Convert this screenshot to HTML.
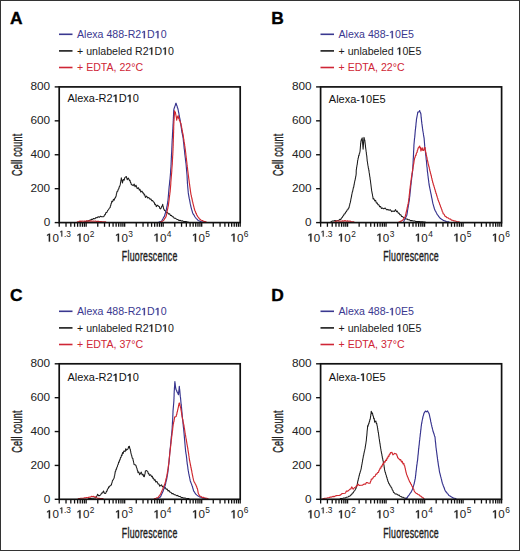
<!DOCTYPE html>
<html><head><meta charset="utf-8"><style>
html,body{margin:0;padding:0;background:#fff;}
svg{display:block;}
text{font-family:"Liberation Sans",sans-serif;}
.h1{fill-opacity:0;}
.let{font-size:17.4px;font-weight:bold;fill:#000;stroke:#000;stroke-width:0.35px;}
.lg{font-size:10.6px;}
.tk{font-size:11.8px;fill:#222;}
.tx{font-size:11.6px;fill:#222;}
.sup{font-size:8.4px;}
.ax{font-size:14px;letter-spacing:0.4px;fill:#1e1e1e;stroke:#1e1e1e;stroke-width:0.4px;}
.tt{font-size:11px;fill:#111;}
</style></head><body>
<svg width="520" height="551" viewBox="0 0 520 551">
<rect x="0.5" y="0.5" width="519" height="550" fill="#fff" stroke="#333" stroke-width="1"/>
<text x="9.9" y="24.1" class="let">A</text>
<line x1="59" x2="72.5" y1="34.30" y2="34.30" stroke="#3a3890" stroke-width="1.6"/>
<text x="77" y="38.20" class="lg" fill="#3a3890">Alexa 488-R2<tspan class="h1">1</tspan>D<tspan class="h1">1</tspan>0</text>
<line x1="59" x2="72.5" y1="50.90" y2="50.90" stroke="#1a1a1a" stroke-width="1.6"/>
<text x="77" y="54.80" class="lg" fill="#1a1a1a">+ unlabeled R2<tspan class="h1">1</tspan>D<tspan class="h1">1</tspan>0</text>
<line x1="59" x2="72.5" y1="67.50" y2="67.50" stroke="#cf2636" stroke-width="1.6"/>
<text x="77" y="71.40" class="lg" fill="#cf2636">+ EDTA, 22°C</text>
<clipPath id="cA"><rect x="59.2" y="86.9" width="181.0" height="135.7"/></clipPath>
<polyline points="60.0,223.2 61.1,223.2 62.2,223.2 63.3,223.2 64.4,223.2 65.5,223.2 66.6,223.2 67.7,223.2 68.8,223.2 69.9,223.2 71.0,223.2 72.1,223.2 73.2,223.2 74.3,223.2 75.4,223.2 76.5,223.2 77.6,223.2 78.7,223.2 79.8,223.2 80.9,223.2 82.0,223.2 83.3,223.2 84.5,221.8 85.8,221.4 87.0,220.9 88.3,220.9 89.4,220.2 90.4,220.1 91.5,219.2 92.5,219.4 93.6,218.5 94.8,218.8 95.9,217.6 97.0,217.8 98.2,216.7 99.4,217.3 100.5,216.2 101.7,216.8 103.4,216.7 104.0,216.4 104.6,214.7 105.2,214.7 106.0,212.5 106.9,212.4 107.7,210.4 108.5,209.9 109.3,208.1 110.1,207.6 110.4,205.8 110.8,205.4 111.1,203.6 111.5,203.2 111.8,201.2 112.6,201.8 113.4,199.3 114.2,200.1 114.8,198.1 115.4,197.9 116.0,196.3 116.2,195.6 116.4,193.9 116.6,193.5 117.2,191.2 117.7,191.3 118.3,189.1 118.8,188.8 119.2,186.8 119.6,186.7 120.1,185.1 120.3,184.4 120.5,182.7 120.7,182.1 120.9,180.3 121.1,179.7 121.3,177.8 121.7,179.9 122.0,180.1 122.4,183.0 123.3,179.4 124.2,180.2 124.8,177.6 125.4,177.1 126.3,176.5 127.2,179.7 128.3,178.1 129.5,180.6 130.0,180.3 130.5,182.6 130.9,182.8 131.4,184.8 131.9,184.7 133.1,185.6 134.2,184.1 135.1,186.8 136.0,185.2 137.2,188.6 138.5,187.7 139.3,190.1 140.0,189.4 140.8,192.1 141.9,191.1 143.1,193.2 143.7,193.1 144.2,195.0 144.8,194.8 145.4,197.5 146.6,196.1 147.7,198.0 148.8,197.5 150.0,199.3 150.9,198.9 151.8,200.7 152.6,200.5 153.5,202.1 154.2,202.3 154.9,204.6 155.6,204.3 156.3,206.6 157.5,205.2 158.7,206.4 159.3,206.5 159.8,208.4 160.4,208.9 161.0,208.3 161.6,206.6 162.1,206.1 162.7,204.3 163.0,205.9 163.2,206.7 163.5,208.3 163.8,208.9 164.6,210.5 165.4,210.8 166.2,212.5 167.3,212.4 168.5,213.9 169.6,213.8 170.5,215.5 171.4,215.4 172.4,216.8 173.3,216.8 174.2,218.2 175.3,218.2 176.5,219.2 177.7,219.4 178.8,220.4 180.0,220.2 181.2,220.9 182.3,220.8 183.5,221.4 184.6,221.5 185.8,221.6 186.9,221.8 188.0,221.9 189.2,223.2 190.4,223.2 191.6,223.2 192.8,223.2 194.0,223.2 195.2,223.2 196.4,223.2 197.6,223.2 198.8,223.2 200.0,223.2 201.1,223.2 202.2,223.2 203.3,223.2 204.4,223.2 205.6,223.2 206.7,223.2 207.8,223.2 208.9,223.2 210.0,223.2 211.1,223.2 212.2,223.2 213.3,223.2 214.4,223.2 215.6,223.2 216.7,223.2 217.8,223.2 218.9,223.2 220.0,223.2 221.1,223.2 222.2,223.2 223.3,223.2 224.4,223.2 225.6,223.2 226.7,223.2 227.8,223.2 228.9,223.2 230.0,223.2 231.1,223.2 232.2,223.2 233.3,223.2 234.4,223.2 235.6,223.2 236.7,223.2 237.8,223.2 238.9,223.2 240.0,223.2" fill="none" stroke="#1a1a1a" stroke-width="1.05" stroke-linejoin="round" clip-path="url(#cA)"/>
<polyline points="150.0,223.2 151.1,223.2 152.3,223.2 153.4,223.2 154.6,223.2 155.7,223.2 156.9,223.2 158.0,223.2 159.2,221.9 160.3,221.6 161.5,221.2 162.1,220.3 162.7,219.2 163.2,218.3 163.8,217.1 164.4,216.3 164.8,215.0 165.1,214.0 165.5,212.7 165.8,211.6 166.2,210.3 166.4,209.3 166.6,208.0 166.8,207.0 167.1,205.8 167.3,204.7 167.5,203.4 167.7,202.4 167.9,201.2 168.0,200.1 168.1,198.9 168.2,197.8 168.3,196.6 168.4,195.5 168.5,194.3 168.6,193.1 168.7,191.9 168.8,190.9 168.9,189.6 169.0,188.5 169.1,187.3 169.2,186.2 169.4,185.0 169.5,183.9 169.6,182.7 169.7,181.6 169.8,180.3 170.0,179.3 170.1,178.0 170.2,176.9 170.3,175.7 170.4,174.6 170.5,173.4 170.6,172.3 170.6,171.1 170.7,169.9 170.8,168.7 170.9,167.6 171.0,166.5 171.0,165.4 171.1,164.2 171.1,163.1 171.2,162.0 171.2,160.9 171.3,159.7 171.3,158.6 171.4,157.5 171.4,156.4 171.5,155.2 171.5,154.1 171.6,153.0 171.7,151.9 171.7,150.8 171.8,149.7 171.8,148.5 171.9,147.4 171.9,146.3 172.0,145.2 172.0,144.1 172.1,143.0 172.1,141.8 172.2,140.8 172.2,139.6 172.3,138.5 172.4,137.3 172.4,136.3 172.5,135.1 172.5,134.1 172.6,132.9 172.7,131.8 172.7,130.6 172.8,129.6 172.9,128.4 172.9,127.4 173.0,126.2 173.0,125.1 173.1,124.0 173.2,122.9 173.2,121.7 173.3,120.7 173.3,119.5 173.4,118.5 173.4,117.3 173.5,116.2 173.5,115.0 173.6,114.0 173.6,112.8 173.7,111.8 173.7,110.6 173.8,109.8 174.2,108.1 174.5,107.6 174.9,106.1 175.3,105.5 175.6,103.8 176.0,103.2 176.3,104.0 176.7,105.4 177.1,106.0 177.4,107.6 177.8,108.3 178.1,109.6 178.3,110.5 178.5,112.0 178.8,112.9 179.0,114.3 179.2,115.1 179.4,116.6 179.6,117.5 179.9,118.9 180.1,119.9 180.3,121.2 180.5,122.2 180.6,123.4 180.8,124.4 181.0,125.7 181.1,126.6 181.3,128.0 181.5,129.0 181.6,130.2 181.8,131.2 182.0,132.6 182.3,133.6 182.5,135.0 182.7,135.9 183.0,137.5 183.2,138.5 183.3,139.7 183.4,140.6 183.5,141.9 183.7,142.9 183.8,144.2 183.9,145.1 184.0,146.4 184.1,147.4 184.2,148.6 184.4,149.6 184.5,150.8 184.6,151.8 184.7,153.0 184.8,154.1 185.0,155.4 185.1,156.5 185.3,157.8 185.4,158.8 185.5,160.1 185.7,161.1 185.8,162.4 186.0,163.5 186.1,164.7 186.2,165.8 186.3,167.0 186.4,168.1 186.5,169.3 186.6,170.4 186.7,171.6 186.8,172.7 186.9,173.9 187.0,175.0 187.1,176.1 187.1,177.2 187.2,178.4 187.2,179.5 187.3,180.6 187.4,181.7 187.4,182.9 187.5,184.0 187.6,185.2 187.7,186.2 187.8,187.4 187.9,188.5 188.0,189.7 188.1,190.7 188.2,191.9 188.3,192.9 188.5,194.3 188.7,195.3 188.9,196.6 189.1,197.6 189.3,198.9 189.6,199.9 189.8,201.1 190.0,202.1 190.2,203.4 190.4,204.4 190.7,205.6 190.9,206.6 191.2,207.8 191.5,208.8 191.8,210.0 192.1,210.9 192.4,212.1 192.7,213.0 193.4,214.4 194.1,215.2 194.7,216.5 195.4,217.5 196.3,218.6 197.2,219.4 198.1,220.5 199.5,221.0 200.9,221.7 202.3,221.9 203.6,223.2 205.0,223.2 206.1,223.2 207.3,223.2 208.4,223.2 209.5,223.2 210.6,223.2 211.8,223.2 212.9,223.2 214.0,223.2 215.2,223.2 216.3,223.2 217.4,223.2 218.5,223.2 219.7,223.2 220.8,223.2 221.9,223.2 223.1,223.2 224.2,223.2 225.3,223.2 226.5,223.2 227.6,223.2 228.7,223.2 229.8,223.2 231.0,223.2 232.1,223.2 233.2,223.2 234.4,223.2 235.5,223.2 236.6,223.2 237.7,223.2 238.9,223.2 240.0,223.2" fill="none" stroke="#36338e" stroke-width="1.15" stroke-linejoin="round" clip-path="url(#cA)"/>
<polyline points="59.5,223.2 60.6,223.2 61.7,223.2 62.8,223.2 63.9,223.2 65.0,223.2 66.1,223.2 67.2,223.2 68.4,223.2 69.5,223.2 70.6,223.2 71.7,223.2 72.8,223.2 73.9,223.2 75.0,223.2 76.2,223.2 77.5,221.8 78.8,221.6 80.0,221.1 81.1,221.4 82.2,221.1 83.3,221.3 84.4,221.0 85.6,221.3 86.7,220.9 87.8,221.3 88.9,220.9 90.0,221.1 91.1,220.9 92.2,221.3 93.3,221.1 94.4,221.3 95.6,221.1 96.7,221.5 97.8,221.2 98.9,221.4 100.0,221.5 101.1,221.6 102.2,221.7 103.3,221.7 104.4,221.8 105.6,221.9 106.7,223.2 107.8,223.2 108.9,223.2 110.0,223.2 111.1,223.2 112.2,223.2 113.4,223.2 114.5,223.2 115.6,223.2 116.8,223.2 117.9,223.2 119.0,223.2 120.1,223.2 121.2,223.2 122.4,223.2 123.5,223.2 124.6,223.2 125.8,223.2 126.9,223.2 128.0,223.2 129.1,223.2 130.2,223.2 131.4,223.2 132.5,223.2 133.6,223.2 134.8,223.2 135.9,223.2 137.0,223.2 138.1,223.2 139.2,223.2 140.4,223.2 141.5,223.2 142.6,223.2 143.8,223.2 144.9,223.2 146.0,223.2 147.1,223.2 148.2,223.2 149.4,223.2 150.5,223.2 151.6,223.2 152.8,223.2 153.9,223.2 155.0,223.2 156.2,223.2 157.5,223.2 158.8,223.2 160.0,223.2 161.1,221.6 162.2,221.4 163.3,220.6 164.0,219.9 164.8,218.3 165.5,217.7 166.2,216.1 166.4,215.2 166.7,213.8 166.9,212.8 167.1,211.4 167.3,210.5 167.6,209.1 167.8,208.3 168.0,206.8 168.3,206.0 168.5,204.5 168.6,203.6 168.8,202.2 168.9,201.3 169.1,199.9 169.2,199.0 169.3,197.6 169.5,196.6 169.6,195.3 169.8,194.4 169.9,192.9 170.1,192.1 170.2,190.7 170.3,189.8 170.4,188.4 170.5,187.5 170.6,186.0 170.7,185.1 170.8,183.7 170.8,182.8 170.9,181.4 171.0,180.5 171.1,179.1 171.2,178.2 171.3,176.8 171.4,175.8 171.5,174.4 171.6,173.5 171.7,172.0 171.8,171.1 171.8,169.7 171.9,168.7 172.0,167.3 172.1,166.3 172.2,164.9 172.3,163.9 172.3,162.6 172.4,161.6 172.4,160.3 172.5,159.3 172.6,158.0 172.6,157.0 172.7,155.7 172.8,154.7 172.8,153.4 172.9,152.4 172.9,151.1 173.0,150.1 173.0,148.8 173.1,147.8 173.1,146.5 173.2,145.5 173.2,144.2 173.2,143.1 173.3,141.8 173.3,140.8 173.3,139.6 173.4,138.5 173.4,137.3 173.5,136.2 173.5,135.0 173.5,134.0 173.6,132.8 173.6,131.8 173.6,130.5 173.7,129.5 173.7,128.4 173.7,127.3 173.7,126.1 173.8,125.2 173.8,123.9 173.9,122.9 173.9,121.5 174.0,120.6 174.1,119.3 174.2,118.3 174.2,116.9 174.3,116.0 174.4,114.6 174.4,113.6 174.5,110.9 175.2,112.1 175.4,112.4 175.7,114.3 175.9,115.0 176.2,116.9 176.4,117.5 176.7,120.2 177.2,116.9 177.6,117.8 178.1,115.5 178.6,118.3 179.0,117.8 179.5,120.8 180.0,120.9 180.5,123.3 181.0,123.6 181.2,125.7 181.4,125.9 181.7,127.7 181.9,128.4 182.1,130.3 182.3,130.8 182.5,132.5 182.8,133.1 183.0,134.7 183.2,135.3 183.4,136.9 183.5,137.6 183.7,139.3 183.9,139.9 184.0,141.5 184.2,142.1 184.4,143.7 184.6,144.3 184.7,146.0 184.9,146.5 185.1,148.3 185.2,148.7 185.4,150.3 185.5,151.2 185.7,152.8 185.8,153.6 185.9,155.1 186.1,156.0 186.2,157.6 186.4,158.3 186.5,159.8 186.6,160.7 186.8,162.2 186.9,163.0 187.0,164.5 187.2,165.4 187.3,166.9 187.5,167.8 187.6,169.2 187.7,170.1 187.9,171.6 188.0,172.4 188.2,174.0 188.3,174.8 188.5,176.3 188.6,177.1 188.8,178.7 188.9,179.4 189.1,180.9 189.2,181.7 189.3,183.1 189.5,183.9 189.7,185.4 189.8,186.2 190.0,187.6 190.1,188.3 190.3,189.7 190.4,190.6 190.6,192.0 190.7,192.7 190.9,194.2 191.2,194.9 191.4,196.6 191.7,197.4 191.9,198.8 192.2,199.7 192.4,201.2 192.7,201.9 193.0,203.6 193.3,204.5 193.6,206.0 193.9,206.9 194.2,208.5 194.5,209.2 194.9,210.8 195.4,211.3 195.8,213.0 196.3,213.5 196.8,215.0 197.2,215.6 197.9,216.9 198.6,217.4 199.3,218.8 200.0,219.3 201.2,220.2 202.4,220.5 203.6,221.4 204.8,221.5 206.0,221.8 207.2,223.2 208.3,223.2 209.4,223.2 210.5,223.2 211.7,223.2 212.8,223.2 213.9,223.2 215.0,223.2" fill="none" stroke="#d0282f" stroke-width="1.15" stroke-linejoin="round" clip-path="url(#cA)"/>
<rect x="59.2" y="86.9" width="181.0" height="135.7" fill="none" stroke="#111" stroke-width="1.7"/>
<line x1="54.7" x2="59.2" y1="222.60" y2="222.60" stroke="#111" stroke-width="1.4"/>
<text x="50.20" y="226.10" class="tk" text-anchor="end">0</text>
<line x1="54.7" x2="59.2" y1="188.68" y2="188.68" stroke="#111" stroke-width="1.4"/>
<text x="50.20" y="192.18" class="tk" text-anchor="end">200</text>
<line x1="54.7" x2="59.2" y1="154.75" y2="154.75" stroke="#111" stroke-width="1.4"/>
<text x="50.20" y="158.25" class="tk" text-anchor="end">400</text>
<line x1="54.7" x2="59.2" y1="120.83" y2="120.83" stroke="#111" stroke-width="1.4"/>
<text x="50.20" y="124.33" class="tk" text-anchor="end">600</text>
<line x1="54.7" x2="59.2" y1="86.90" y2="86.90" stroke="#111" stroke-width="1.4"/>
<text x="50.20" y="90.40" class="tk" text-anchor="end">800</text>
<line x1="59.24" x2="59.24" y1="222.6" y2="226.79999999999998" stroke="#111" stroke-width="1.3"/>
<line x1="66.02" x2="66.02" y1="222.6" y2="226.79999999999998" stroke="#111" stroke-width="1.3"/>
<line x1="70.83" x2="70.83" y1="222.6" y2="226.79999999999998" stroke="#111" stroke-width="1.3"/>
<line x1="74.56" x2="74.56" y1="222.6" y2="226.79999999999998" stroke="#111" stroke-width="1.3"/>
<line x1="77.61" x2="77.61" y1="222.6" y2="226.79999999999998" stroke="#111" stroke-width="1.3"/>
<line x1="80.19" x2="80.19" y1="222.6" y2="226.79999999999998" stroke="#111" stroke-width="1.3"/>
<line x1="82.43" x2="82.43" y1="222.6" y2="226.79999999999998" stroke="#111" stroke-width="1.3"/>
<line x1="84.40" x2="84.40" y1="222.6" y2="226.79999999999998" stroke="#111" stroke-width="1.3"/>
<line x1="86.16" x2="86.16" y1="222.6" y2="226.79999999999998" stroke="#111" stroke-width="1.3"/>
<line x1="97.75" x2="97.75" y1="222.6" y2="226.79999999999998" stroke="#111" stroke-width="1.3"/>
<line x1="104.53" x2="104.53" y1="222.6" y2="226.79999999999998" stroke="#111" stroke-width="1.3"/>
<line x1="109.34" x2="109.34" y1="222.6" y2="226.79999999999998" stroke="#111" stroke-width="1.3"/>
<line x1="113.08" x2="113.08" y1="222.6" y2="226.79999999999998" stroke="#111" stroke-width="1.3"/>
<line x1="116.12" x2="116.12" y1="222.6" y2="226.79999999999998" stroke="#111" stroke-width="1.3"/>
<line x1="118.70" x2="118.70" y1="222.6" y2="226.79999999999998" stroke="#111" stroke-width="1.3"/>
<line x1="120.94" x2="120.94" y1="222.6" y2="226.79999999999998" stroke="#111" stroke-width="1.3"/>
<line x1="122.91" x2="122.91" y1="222.6" y2="226.79999999999998" stroke="#111" stroke-width="1.3"/>
<line x1="124.67" x2="124.67" y1="222.6" y2="226.79999999999998" stroke="#111" stroke-width="1.3"/>
<line x1="136.26" x2="136.26" y1="222.6" y2="226.79999999999998" stroke="#111" stroke-width="1.3"/>
<line x1="143.04" x2="143.04" y1="222.6" y2="226.79999999999998" stroke="#111" stroke-width="1.3"/>
<line x1="147.85" x2="147.85" y1="222.6" y2="226.79999999999998" stroke="#111" stroke-width="1.3"/>
<line x1="151.59" x2="151.59" y1="222.6" y2="226.79999999999998" stroke="#111" stroke-width="1.3"/>
<line x1="154.64" x2="154.64" y1="222.6" y2="226.79999999999998" stroke="#111" stroke-width="1.3"/>
<line x1="157.21" x2="157.21" y1="222.6" y2="226.79999999999998" stroke="#111" stroke-width="1.3"/>
<line x1="159.45" x2="159.45" y1="222.6" y2="226.79999999999998" stroke="#111" stroke-width="1.3"/>
<line x1="161.42" x2="161.42" y1="222.6" y2="226.79999999999998" stroke="#111" stroke-width="1.3"/>
<line x1="163.18" x2="163.18" y1="222.6" y2="226.79999999999998" stroke="#111" stroke-width="1.3"/>
<line x1="174.77" x2="174.77" y1="222.6" y2="226.79999999999998" stroke="#111" stroke-width="1.3"/>
<line x1="181.55" x2="181.55" y1="222.6" y2="226.79999999999998" stroke="#111" stroke-width="1.3"/>
<line x1="186.36" x2="186.36" y1="222.6" y2="226.79999999999998" stroke="#111" stroke-width="1.3"/>
<line x1="190.10" x2="190.10" y1="222.6" y2="226.79999999999998" stroke="#111" stroke-width="1.3"/>
<line x1="193.15" x2="193.15" y1="222.6" y2="226.79999999999998" stroke="#111" stroke-width="1.3"/>
<line x1="195.72" x2="195.72" y1="222.6" y2="226.79999999999998" stroke="#111" stroke-width="1.3"/>
<line x1="197.96" x2="197.96" y1="222.6" y2="226.79999999999998" stroke="#111" stroke-width="1.3"/>
<line x1="199.93" x2="199.93" y1="222.6" y2="226.79999999999998" stroke="#111" stroke-width="1.3"/>
<line x1="201.69" x2="201.69" y1="222.6" y2="226.79999999999998" stroke="#111" stroke-width="1.3"/>
<line x1="213.28" x2="213.28" y1="222.6" y2="226.79999999999998" stroke="#111" stroke-width="1.3"/>
<line x1="220.06" x2="220.06" y1="222.6" y2="226.79999999999998" stroke="#111" stroke-width="1.3"/>
<line x1="224.88" x2="224.88" y1="222.6" y2="226.79999999999998" stroke="#111" stroke-width="1.3"/>
<line x1="228.61" x2="228.61" y1="222.6" y2="226.79999999999998" stroke="#111" stroke-width="1.3"/>
<line x1="231.66" x2="231.66" y1="222.6" y2="226.79999999999998" stroke="#111" stroke-width="1.3"/>
<line x1="234.23" x2="234.23" y1="222.6" y2="226.79999999999998" stroke="#111" stroke-width="1.3"/>
<line x1="236.47" x2="236.47" y1="222.6" y2="226.79999999999998" stroke="#111" stroke-width="1.3"/>
<line x1="238.44" x2="238.44" y1="222.6" y2="226.79999999999998" stroke="#111" stroke-width="1.3"/>
<line x1="240.20" x2="240.20" y1="222.6" y2="226.79999999999998" stroke="#111" stroke-width="1.3"/>
<text x="58.50" y="241.60" class="tx" text-anchor="middle"><tspan class="h1">1</tspan>0<tspan class="sup" dx="0.4" dy="-5.0"><tspan class="h1">1</tspan>.3</tspan></text>
<text x="85.46" y="241.60" class="tx" text-anchor="middle"><tspan class="h1">1</tspan>0<tspan class="sup" dx="0.4" dy="-5.0">2</tspan></text>
<text x="123.97" y="241.60" class="tx" text-anchor="middle"><tspan class="h1">1</tspan>0<tspan class="sup" dx="0.4" dy="-5.0">3</tspan></text>
<text x="162.48" y="241.60" class="tx" text-anchor="middle"><tspan class="h1">1</tspan>0<tspan class="sup" dx="0.4" dy="-5.0">4</tspan></text>
<text x="200.99" y="241.60" class="tx" text-anchor="middle"><tspan class="h1">1</tspan>0<tspan class="sup" dx="0.4" dy="-5.0">5</tspan></text>
<text x="239.50" y="241.60" class="tx" text-anchor="middle"><tspan class="h1">1</tspan>0<tspan class="sup" dx="0.4" dy="-5.0">6</tspan></text>
<text x="149.70" y="261.00" class="ax" text-anchor="middle" transform="translate(149.70 0) scale(0.628 1) translate(-149.70 0)">Fluorescence</text>
<text x="0" y="0" class="ax" text-anchor="middle" transform="translate(22.00 154.75) rotate(-90) scale(0.642 1)">Cell count</text>
<text x="67.40" y="102.20" class="tt">Alexa-R2<tspan class="h1">1</tspan>D<tspan class="h1">1</tspan>0</text>
<text x="271.2" y="24.1" class="let">B</text>
<line x1="320.5" x2="334.0" y1="34.30" y2="34.30" stroke="#3a3890" stroke-width="1.6"/>
<text x="338.5" y="38.20" class="lg" fill="#3a3890">Alexa 488-<tspan class="h1">1</tspan>0E5</text>
<line x1="320.5" x2="334.0" y1="50.90" y2="50.90" stroke="#1a1a1a" stroke-width="1.6"/>
<text x="338.5" y="54.80" class="lg" fill="#1a1a1a">+ unlabeled <tspan class="h1">1</tspan>0E5</text>
<line x1="320.5" x2="334.0" y1="67.50" y2="67.50" stroke="#cf2636" stroke-width="1.6"/>
<text x="338.5" y="71.40" class="lg" fill="#cf2636">+ EDTA, 22°C</text>
<clipPath id="cB"><rect x="320.6" y="86.9" width="181.0" height="135.7"/></clipPath>
<polyline points="321.0,223.2 322.1,223.2 323.2,223.2 324.4,223.2 325.5,223.2 326.6,223.2 327.8,223.2 328.9,223.2 330.0,223.2 331.2,221.6 332.4,221.0 333.6,221.0 335.0,220.4 336.3,220.9 337.7,220.4 338.7,220.3 339.8,219.3 340.8,219.6 341.5,217.9 342.2,217.6 342.8,216.1 343.5,215.7 344.2,214.0 345.0,213.7 345.7,212.0 346.5,211.7 347.1,209.9 347.8,209.7 348.4,208.2 349.0,207.8 349.3,206.0 349.6,205.4 349.9,203.5 350.2,202.9 350.5,201.4 350.7,200.6 350.9,199.0 351.1,198.3 351.4,196.8 351.6,196.0 351.8,194.5 352.0,193.7 352.3,192.1 352.6,191.6 352.9,189.8 353.1,189.1 353.4,187.4 353.7,187.1 354.0,185.1 354.2,184.5 354.4,182.9 354.6,182.3 354.8,180.8 355.1,180.3 355.3,178.6 355.5,178.2 355.7,176.5 355.9,176.0 356.1,174.4 356.2,173.5 356.2,172.2 356.2,171.2 356.3,169.7 356.5,169.0 356.6,167.5 356.8,166.8 357.0,165.2 357.2,164.6 357.4,162.8 357.5,162.3 357.7,160.3 357.9,159.9 358.1,158.2 358.4,157.9 358.6,155.5 359.0,155.8 359.3,153.6 359.6,153.4 360.0,151.5 360.1,150.7 360.2,149.2 360.3,148.3 360.4,146.8 360.5,145.8 360.6,144.1 360.7,143.7 360.9,141.9 361.0,141.5 361.2,139.8 361.3,140.2 362.2,137.9 362.3,139.5 362.4,140.4 362.5,141.9 362.6,142.7 362.7,144.4 362.8,145.3 362.9,146.8 363.0,147.7 363.1,149.2 363.2,147.7 363.3,146.9 363.4,145.3 363.5,144.4 363.6,143.0 363.6,142.1 363.7,140.6 363.8,139.6 363.9,138.2 364.0,137.4 364.2,138.1 364.5,139.7 364.8,140.1 365.0,142.1 365.1,142.8 365.3,144.5 365.4,145.1 365.5,146.8 365.6,147.4 365.8,149.0 365.9,149.5 366.1,151.4 366.3,152.1 366.4,154.1 366.6,154.8 366.8,156.4 366.9,157.2 367.0,158.7 367.1,159.5 367.2,161.1 367.4,161.7 367.6,163.3 367.7,163.7 367.9,165.4 368.1,165.9 368.3,168.0 368.6,168.5 368.8,170.3 369.0,170.8 369.1,172.4 369.3,173.0 369.5,174.7 369.6,175.2 369.8,176.8 370.0,177.4 370.1,179.1 370.3,179.8 370.5,181.3 370.6,182.2 370.8,183.7 370.9,184.5 371.1,186.2 371.2,187.0 371.4,188.6 371.5,189.4 371.7,190.9 371.9,191.8 372.2,193.6 372.4,194.2 372.6,195.9 372.9,196.9 373.1,199.0 373.9,198.7 374.8,200.9 375.6,200.4 376.4,203.1 377.2,202.9 378.0,204.8 378.8,204.8 379.7,206.8 380.6,206.5 381.4,208.4 382.3,208.0 383.8,208.9 385.2,208.0 386.5,209.7 387.8,209.4 389.1,210.3 390.4,209.7 391.7,211.6 393.0,211.1 394.3,211.5 395.6,209.6 396.5,211.7 397.3,211.1 398.2,213.1 399.0,213.1 399.9,214.8 400.8,214.7 401.6,216.5 402.5,216.6 403.7,217.7 404.8,217.7 406.0,219.1 407.1,219.0 408.1,219.8 409.2,219.7 410.3,220.6 411.7,220.6 413.2,221.1 414.6,220.9 415.8,221.5 416.9,221.4 418.1,221.5 419.2,221.6 420.4,221.7 421.5,221.8 422.7,221.8 423.8,221.9 425.0,221.9 426.1,223.2 427.3,223.2 428.4,223.2 429.6,223.2 430.8,223.2 431.9,223.2 433.1,223.2 434.2,223.2 435.4,223.2 436.5,223.2 437.7,223.2 438.8,223.2 440.0,223.2 441.1,223.2 442.2,223.2 443.3,223.2 444.4,223.2 445.5,223.2 446.7,223.2 447.8,223.2 448.9,223.2 450.0,223.2 451.1,223.2 452.2,223.2 453.3,223.2 454.4,223.2 455.5,223.2 456.6,223.2 457.7,223.2 458.9,223.2 460.0,223.2 461.1,223.2 462.2,223.2 463.3,223.2 464.4,223.2 465.5,223.2 466.6,223.2 467.7,223.2 468.8,223.2 469.9,223.2 471.1,223.2 472.2,223.2 473.3,223.2 474.4,223.2 475.5,223.2 476.6,223.2 477.7,223.2 478.8,223.2 479.9,223.2 481.0,223.2 482.1,223.2 483.3,223.2 484.4,223.2 485.5,223.2 486.6,223.2 487.7,223.2 488.8,223.2 489.9,223.2 491.0,223.2 492.1,223.2 493.2,223.2 494.3,223.2 495.5,223.2 496.6,223.2 497.7,223.2 498.8,223.2 499.9,223.2 501.0,223.2" fill="none" stroke="#1a1a1a" stroke-width="1.05" stroke-linejoin="round" clip-path="url(#cB)"/>
<polyline points="380.0,223.2 381.1,223.2 382.2,223.2 383.4,223.2 384.5,223.2 385.6,223.2 386.8,223.2 387.9,223.2 389.0,223.2 390.1,223.2 391.2,223.2 392.4,223.2 393.5,223.2 394.6,223.2 395.8,223.2 396.9,223.2 398.0,223.2 399.4,223.2 400.7,223.2 402.0,223.2 403.4,223.2 404.0,220.9 404.5,219.7 405.1,218.7 405.7,217.4 406.2,216.4 406.8,215.2 407.0,214.1 407.2,212.9 407.4,211.9 407.5,210.7 407.7,209.7 407.9,208.5 408.1,207.5 408.3,206.2 408.5,205.2 408.7,204.0 408.8,203.0 409.0,201.8 409.2,200.8 409.4,199.6 409.5,198.5 409.6,197.2 409.8,196.2 409.9,195.0 410.0,193.9 410.1,192.7 410.2,191.6 410.4,190.4 410.5,189.3 410.6,188.0 410.7,186.9 410.8,185.7 411.0,184.6 411.1,183.4 411.2,182.4 411.3,181.1 411.5,180.1 411.6,178.9 411.7,177.9 411.9,176.6 412.0,175.7 412.2,174.4 412.3,173.4 412.4,172.2 412.6,171.2 412.7,170.0 412.8,168.9 412.8,167.7 412.9,166.5 412.9,165.3 413.0,164.2 413.1,163.0 413.1,161.9 413.2,160.7 413.2,159.6 413.3,158.4 413.4,157.3 413.4,156.0 413.5,154.9 413.5,153.7 413.6,152.6 413.6,151.4 413.7,150.3 413.8,149.0 413.8,147.9 413.9,146.7 413.9,145.6 414.0,144.3 414.1,143.3 414.2,142.0 414.3,141.0 414.4,139.7 414.5,138.7 414.7,137.4 414.8,136.4 414.9,135.1 415.0,134.1 415.1,132.8 415.2,131.8 415.3,130.4 415.5,129.2 415.6,127.8 415.8,126.7 415.9,125.3 416.0,124.2 416.1,122.8 416.3,121.6 416.4,120.2 416.5,119.1 416.8,117.6 417.0,116.6 417.3,115.0 417.5,114.1 417.8,112.1 418.8,112.0 419.7,110.6 420.1,112.0 420.5,112.8 420.9,114.0 421.0,115.2 421.1,116.6 421.2,117.7 421.4,119.1 421.5,120.2 421.6,121.7 421.8,122.7 421.9,123.9 422.1,124.8 422.2,126.1 422.4,127.1 422.5,128.4 422.7,129.3 422.8,130.6 423.0,131.5 423.2,132.7 423.4,133.7 423.5,134.9 423.7,135.8 423.9,137.1 424.1,138.1 424.2,139.4 424.3,140.6 424.4,142.0 424.5,143.1 424.6,144.5 424.7,145.6 424.8,146.9 425.0,147.9 425.1,149.2 425.2,150.2 425.4,151.5 425.5,152.5 425.6,153.7 425.7,154.8 425.9,156.0 426.0,157.0 426.1,158.3 426.2,159.4 426.4,160.7 426.5,161.7 426.6,163.0 426.7,164.1 426.8,165.3 426.9,166.4 427.1,167.7 427.2,168.8 427.3,170.1 427.4,171.3 427.6,172.7 427.8,174.0 427.9,175.5 428.1,176.5 428.2,177.8 428.4,178.8 428.5,180.1 428.7,181.1 428.8,182.4 429.0,183.4 429.1,184.7 429.3,185.7 429.6,187.1 429.8,188.2 430.1,189.5 430.3,190.6 430.6,192.0 430.8,193.1 431.1,194.4 431.3,195.4 431.5,196.6 431.7,197.6 432.0,198.8 432.2,199.8 432.4,201.0 432.6,202.0 432.8,203.2 433.1,204.2 433.5,205.6 433.8,206.6 434.2,208.0 434.5,209.0 435.0,210.2 435.5,211.1 436.1,212.3 436.6,213.1 437.1,214.4 438.0,215.3 438.8,216.7 439.7,217.7 440.9,218.7 442.0,219.4 443.2,220.4 444.3,220.7 445.4,221.1 446.4,221.5 447.5,221.8 448.8,221.9 450.0,223.2 451.2,223.2 452.5,223.2 453.8,223.2 455.0,223.2 456.1,223.2 457.2,223.2 458.4,223.2 459.5,223.2 460.6,223.2 461.7,223.2 462.9,223.2 464.0,223.2 465.1,223.2 466.2,223.2 467.3,223.2 468.5,223.2 469.6,223.2 470.7,223.2 471.8,223.2 473.0,223.2 474.1,223.2 475.2,223.2 476.3,223.2 477.4,223.2 478.6,223.2 479.7,223.2 480.8,223.2 481.9,223.2 483.0,223.2 484.2,223.2 485.3,223.2 486.4,223.2 487.5,223.2 488.7,223.2 489.8,223.2 490.9,223.2 492.0,223.2 493.1,223.2 494.3,223.2 495.4,223.2 496.5,223.2 497.6,223.2 498.8,223.2 499.9,223.2 501.0,223.2" fill="none" stroke="#36338e" stroke-width="1.15" stroke-linejoin="round" clip-path="url(#cB)"/>
<polyline points="321.0,223.2 322.2,223.2 323.4,223.2 324.5,223.2 325.7,223.2 326.9,223.2 328.1,223.2 329.3,223.2 330.5,223.2 331.6,223.2 332.8,223.2 334.0,223.2 335.1,221.7 336.3,221.1 337.5,220.8 338.8,221.2 340.0,221.0 341.2,221.2 342.5,220.9 343.8,221.1 345.0,220.6 346.2,221.2 347.5,220.9 348.8,221.3 350.0,221.1 351.2,221.5 352.5,221.7 353.8,221.8 355.0,223.2 356.2,223.2 357.3,223.2 358.5,223.2 359.6,223.2 360.8,223.2 361.9,223.2 363.1,223.2 364.2,223.2 365.4,223.2 366.5,223.2 367.7,223.2 368.8,223.2 370.0,223.2 371.1,223.2 372.2,223.2 373.4,223.2 374.5,223.2 375.6,223.2 376.7,223.2 377.8,223.2 379.0,223.2 380.1,223.2 381.2,223.2 382.3,223.2 383.4,223.2 384.6,223.2 385.7,223.2 386.8,223.2 387.9,223.2 389.0,223.2 390.2,223.2 391.3,223.2 392.4,223.2 393.5,223.2 394.6,223.2 395.8,223.2 396.9,223.2 398.0,223.2 399.1,221.9 400.2,221.4 401.4,221.1 402.5,220.2 403.4,219.4 404.2,217.7 405.1,217.0 405.4,215.6 405.7,214.8 406.0,213.3 406.2,212.5 406.5,210.9 406.8,210.1 407.0,208.8 407.2,208.0 407.5,206.6 407.7,205.8 407.9,204.3 408.2,203.7 408.4,202.2 408.6,201.4 408.7,200.1 408.8,199.1 409.0,197.9 409.1,197.0 409.2,195.7 409.3,194.8 409.5,193.4 409.6,192.6 409.7,191.2 409.8,190.3 409.9,189.0 410.1,188.1 410.2,186.7 410.3,186.0 410.5,184.5 410.6,183.7 410.8,182.4 410.9,181.6 411.1,180.1 411.2,179.3 411.4,177.9 411.5,177.3 411.7,175.7 411.8,175.0 412.0,173.4 412.2,172.7 412.4,171.3 412.6,170.6 412.7,169.1 412.9,168.5 413.1,167.0 413.3,166.1 413.5,164.6 413.7,164.0 413.9,162.6 414.0,161.9 414.2,160.3 414.4,159.8 414.6,158.0 415.0,157.7 415.5,155.3 415.9,155.5 416.5,152.9 417.1,152.4 417.4,150.2 417.8,149.9 418.1,148.0 418.4,147.9 419.7,146.0 420.1,148.2 420.5,147.6 420.9,151.0 422.2,147.8 422.9,150.5 423.5,150.4 423.9,149.9 424.3,147.8 424.7,147.3 425.0,147.8 425.2,149.9 425.5,150.6 425.7,152.2 426.0,153.1 426.3,154.9 426.5,155.5 426.8,157.3 427.0,157.9 427.3,160.0 427.5,160.4 427.8,162.0 428.0,162.7 428.3,164.3 428.5,164.6 428.8,166.4 429.1,166.8 429.4,168.7 429.6,169.2 429.9,171.2 430.2,171.5 430.5,173.3 430.8,173.9 431.1,175.6 431.4,176.3 431.6,178.0 431.9,178.4 432.2,180.4 432.5,180.9 432.8,182.8 433.1,183.0 433.4,184.8 433.8,185.3 434.1,187.0 434.4,187.3 434.8,189.3 435.1,189.7 435.4,191.4 435.7,191.8 436.0,193.5 436.4,193.8 436.7,195.5 437.0,196.2 437.4,197.7 437.7,198.2 438.0,199.9 438.4,200.5 438.9,202.2 439.3,202.6 439.7,204.4 440.2,205.1 440.6,206.8 441.0,207.3 441.5,209.0 441.9,209.8 442.3,211.5 442.8,212.1 443.2,213.8 444.1,214.2 444.9,216.1 445.8,216.5 446.9,217.7 448.1,217.8 449.2,218.9 450.4,219.0 451.5,220.1 452.7,220.2 454.0,220.9 455.3,221.0 456.6,221.5 457.9,221.8 459.1,221.9 460.3,223.2 461.4,223.2 462.6,223.2 463.8,223.2 465.0,223.2 466.1,223.2 467.2,223.2 468.4,223.2 469.5,223.2 470.6,223.2 471.8,223.2 472.9,223.2 474.0,223.2 475.1,223.2 476.2,223.2 477.4,223.2 478.5,223.2 479.6,223.2 480.8,223.2 481.9,223.2 483.0,223.2 484.1,223.2 485.2,223.2 486.4,223.2 487.5,223.2 488.6,223.2 489.8,223.2 490.9,223.2 492.0,223.2 493.1,223.2 494.2,223.2 495.4,223.2 496.5,223.2 497.6,223.2 498.8,223.2 499.9,223.2 501.0,223.2" fill="none" stroke="#d0282f" stroke-width="1.15" stroke-linejoin="round" clip-path="url(#cB)"/>
<rect x="320.6" y="86.9" width="181.0" height="135.7" fill="none" stroke="#111" stroke-width="1.7"/>
<line x1="316.1" x2="320.6" y1="222.60" y2="222.60" stroke="#111" stroke-width="1.4"/>
<text x="311.60" y="226.10" class="tk" text-anchor="end">0</text>
<line x1="316.1" x2="320.6" y1="188.68" y2="188.68" stroke="#111" stroke-width="1.4"/>
<text x="311.60" y="192.18" class="tk" text-anchor="end">200</text>
<line x1="316.1" x2="320.6" y1="154.75" y2="154.75" stroke="#111" stroke-width="1.4"/>
<text x="311.60" y="158.25" class="tk" text-anchor="end">400</text>
<line x1="316.1" x2="320.6" y1="120.83" y2="120.83" stroke="#111" stroke-width="1.4"/>
<text x="311.60" y="124.33" class="tk" text-anchor="end">600</text>
<line x1="316.1" x2="320.6" y1="86.90" y2="86.90" stroke="#111" stroke-width="1.4"/>
<text x="311.60" y="90.40" class="tk" text-anchor="end">800</text>
<line x1="320.64" x2="320.64" y1="222.6" y2="226.79999999999998" stroke="#111" stroke-width="1.3"/>
<line x1="327.42" x2="327.42" y1="222.6" y2="226.79999999999998" stroke="#111" stroke-width="1.3"/>
<line x1="332.23" x2="332.23" y1="222.6" y2="226.79999999999998" stroke="#111" stroke-width="1.3"/>
<line x1="335.96" x2="335.96" y1="222.6" y2="226.79999999999998" stroke="#111" stroke-width="1.3"/>
<line x1="339.01" x2="339.01" y1="222.6" y2="226.79999999999998" stroke="#111" stroke-width="1.3"/>
<line x1="341.59" x2="341.59" y1="222.6" y2="226.79999999999998" stroke="#111" stroke-width="1.3"/>
<line x1="343.83" x2="343.83" y1="222.6" y2="226.79999999999998" stroke="#111" stroke-width="1.3"/>
<line x1="345.80" x2="345.80" y1="222.6" y2="226.79999999999998" stroke="#111" stroke-width="1.3"/>
<line x1="347.56" x2="347.56" y1="222.6" y2="226.79999999999998" stroke="#111" stroke-width="1.3"/>
<line x1="359.15" x2="359.15" y1="222.6" y2="226.79999999999998" stroke="#111" stroke-width="1.3"/>
<line x1="365.93" x2="365.93" y1="222.6" y2="226.79999999999998" stroke="#111" stroke-width="1.3"/>
<line x1="370.74" x2="370.74" y1="222.6" y2="226.79999999999998" stroke="#111" stroke-width="1.3"/>
<line x1="374.48" x2="374.48" y1="222.6" y2="226.79999999999998" stroke="#111" stroke-width="1.3"/>
<line x1="377.52" x2="377.52" y1="222.6" y2="226.79999999999998" stroke="#111" stroke-width="1.3"/>
<line x1="380.10" x2="380.10" y1="222.6" y2="226.79999999999998" stroke="#111" stroke-width="1.3"/>
<line x1="382.34" x2="382.34" y1="222.6" y2="226.79999999999998" stroke="#111" stroke-width="1.3"/>
<line x1="384.31" x2="384.31" y1="222.6" y2="226.79999999999998" stroke="#111" stroke-width="1.3"/>
<line x1="386.07" x2="386.07" y1="222.6" y2="226.79999999999998" stroke="#111" stroke-width="1.3"/>
<line x1="397.66" x2="397.66" y1="222.6" y2="226.79999999999998" stroke="#111" stroke-width="1.3"/>
<line x1="404.44" x2="404.44" y1="222.6" y2="226.79999999999998" stroke="#111" stroke-width="1.3"/>
<line x1="409.25" x2="409.25" y1="222.6" y2="226.79999999999998" stroke="#111" stroke-width="1.3"/>
<line x1="412.99" x2="412.99" y1="222.6" y2="226.79999999999998" stroke="#111" stroke-width="1.3"/>
<line x1="416.04" x2="416.04" y1="222.6" y2="226.79999999999998" stroke="#111" stroke-width="1.3"/>
<line x1="418.61" x2="418.61" y1="222.6" y2="226.79999999999998" stroke="#111" stroke-width="1.3"/>
<line x1="420.85" x2="420.85" y1="222.6" y2="226.79999999999998" stroke="#111" stroke-width="1.3"/>
<line x1="422.82" x2="422.82" y1="222.6" y2="226.79999999999998" stroke="#111" stroke-width="1.3"/>
<line x1="424.58" x2="424.58" y1="222.6" y2="226.79999999999998" stroke="#111" stroke-width="1.3"/>
<line x1="436.17" x2="436.17" y1="222.6" y2="226.79999999999998" stroke="#111" stroke-width="1.3"/>
<line x1="442.95" x2="442.95" y1="222.6" y2="226.79999999999998" stroke="#111" stroke-width="1.3"/>
<line x1="447.76" x2="447.76" y1="222.6" y2="226.79999999999998" stroke="#111" stroke-width="1.3"/>
<line x1="451.50" x2="451.50" y1="222.6" y2="226.79999999999998" stroke="#111" stroke-width="1.3"/>
<line x1="454.55" x2="454.55" y1="222.6" y2="226.79999999999998" stroke="#111" stroke-width="1.3"/>
<line x1="457.12" x2="457.12" y1="222.6" y2="226.79999999999998" stroke="#111" stroke-width="1.3"/>
<line x1="459.36" x2="459.36" y1="222.6" y2="226.79999999999998" stroke="#111" stroke-width="1.3"/>
<line x1="461.33" x2="461.33" y1="222.6" y2="226.79999999999998" stroke="#111" stroke-width="1.3"/>
<line x1="463.09" x2="463.09" y1="222.6" y2="226.79999999999998" stroke="#111" stroke-width="1.3"/>
<line x1="474.68" x2="474.68" y1="222.6" y2="226.79999999999998" stroke="#111" stroke-width="1.3"/>
<line x1="481.46" x2="481.46" y1="222.6" y2="226.79999999999998" stroke="#111" stroke-width="1.3"/>
<line x1="486.28" x2="486.28" y1="222.6" y2="226.79999999999998" stroke="#111" stroke-width="1.3"/>
<line x1="490.01" x2="490.01" y1="222.6" y2="226.79999999999998" stroke="#111" stroke-width="1.3"/>
<line x1="493.06" x2="493.06" y1="222.6" y2="226.79999999999998" stroke="#111" stroke-width="1.3"/>
<line x1="495.63" x2="495.63" y1="222.6" y2="226.79999999999998" stroke="#111" stroke-width="1.3"/>
<line x1="497.87" x2="497.87" y1="222.6" y2="226.79999999999998" stroke="#111" stroke-width="1.3"/>
<line x1="499.84" x2="499.84" y1="222.6" y2="226.79999999999998" stroke="#111" stroke-width="1.3"/>
<line x1="501.60" x2="501.60" y1="222.6" y2="226.79999999999998" stroke="#111" stroke-width="1.3"/>
<text x="319.90" y="241.60" class="tx" text-anchor="middle"><tspan class="h1">1</tspan>0<tspan class="sup" dx="0.4" dy="-5.0"><tspan class="h1">1</tspan>.3</tspan></text>
<text x="346.86" y="241.60" class="tx" text-anchor="middle"><tspan class="h1">1</tspan>0<tspan class="sup" dx="0.4" dy="-5.0">2</tspan></text>
<text x="385.37" y="241.60" class="tx" text-anchor="middle"><tspan class="h1">1</tspan>0<tspan class="sup" dx="0.4" dy="-5.0">3</tspan></text>
<text x="423.88" y="241.60" class="tx" text-anchor="middle"><tspan class="h1">1</tspan>0<tspan class="sup" dx="0.4" dy="-5.0">4</tspan></text>
<text x="462.39" y="241.60" class="tx" text-anchor="middle"><tspan class="h1">1</tspan>0<tspan class="sup" dx="0.4" dy="-5.0">5</tspan></text>
<text x="500.90" y="241.60" class="tx" text-anchor="middle"><tspan class="h1">1</tspan>0<tspan class="sup" dx="0.4" dy="-5.0">6</tspan></text>
<text x="411.10" y="261.00" class="ax" text-anchor="middle" transform="translate(411.10 0) scale(0.628 1) translate(-411.10 0)">Fluorescence</text>
<text x="0" y="0" class="ax" text-anchor="middle" transform="translate(283.40 154.75) rotate(-90) scale(0.642 1)">Cell count</text>
<text x="328.80" y="103.00" class="tt">Alexa-<tspan class="h1">1</tspan>0E5</text>
<text x="9.9" y="301.1" class="let">C</text>
<line x1="59" x2="72.5" y1="311.30" y2="311.30" stroke="#3a3890" stroke-width="1.6"/>
<text x="77" y="315.20" class="lg" fill="#3a3890">Alexa 488-R2<tspan class="h1">1</tspan>D<tspan class="h1">1</tspan>0</text>
<line x1="59" x2="72.5" y1="327.90" y2="327.90" stroke="#1a1a1a" stroke-width="1.6"/>
<text x="77" y="331.80" class="lg" fill="#1a1a1a">+ unlabeled R2<tspan class="h1">1</tspan>D<tspan class="h1">1</tspan>0</text>
<line x1="59" x2="72.5" y1="344.50" y2="344.50" stroke="#cf2636" stroke-width="1.6"/>
<text x="77" y="348.40" class="lg" fill="#cf2636">+ EDTA, 37°C</text>
<clipPath id="cC"><rect x="59.2" y="363.8" width="181.0" height="135.5"/></clipPath>
<polyline points="60.0,499.9 61.1,499.9 62.3,499.9 63.4,499.9 64.5,499.9 65.7,499.9 66.8,499.9 68.0,499.9 69.1,499.9 70.2,499.9 71.4,499.9 72.5,499.9 73.6,499.9 74.8,499.9 75.9,499.9 77.0,499.9 78.2,499.9 79.3,499.9 80.5,499.9 81.6,499.9 82.7,499.9 83.9,499.9 85.0,499.9 86.2,499.9 87.4,499.9 88.6,498.5 89.8,498.4 90.9,498.4 92.1,498.3 93.3,498.2 94.5,497.9 95.7,498.1 96.3,496.7 97.0,495.9 97.6,494.2 98.6,495.6 99.6,495.6 100.6,494.9 101.6,493.1 102.5,493.0 103.5,491.0 104.4,493.2 105.3,493.5 105.8,493.1 106.4,491.5 107.0,491.0 107.5,489.2 108.1,488.7 108.8,486.8 109.4,486.9 110.4,485.2 111.4,485.1 111.7,483.3 112.1,482.5 112.4,480.8 112.7,480.6 114.0,478.2 114.2,477.6 114.4,475.9 114.7,475.4 114.9,473.8 115.1,473.0 115.3,471.3 115.7,471.2 116.1,469.0 116.5,469.2 116.9,467.1 117.3,466.9 117.7,465.0 118.2,464.4 118.6,462.1 119.1,462.3 119.5,460.1 120.0,459.9 120.5,457.6 121.0,457.5 121.5,455.1 122.0,455.5 122.5,452.6 123.2,453.5 123.8,451.0 125.1,451.6 125.8,448.7 126.4,450.2 127.7,449.2 128.1,448.7 128.6,446.5 129.0,446.5 129.4,446.3 129.9,448.8 130.3,449.4 130.5,451.0 130.7,451.3 130.9,453.3 131.2,453.7 131.4,455.2 131.6,455.2 132.2,458.0 132.9,458.5 133.1,460.2 133.3,460.7 133.6,462.2 133.8,462.8 134.0,464.4 134.2,464.4 135.6,465.0 136.0,465.6 136.5,467.5 136.9,468.2 137.3,470.1 137.6,470.4 138.0,472.6 138.8,472.0 139.6,474.7 141.3,472.1 142.2,474.9 143.1,474.3 143.6,476.4 144.2,476.8 144.5,476.0 144.8,474.3 145.1,473.4 145.4,470.9 146.5,470.6 147.7,471.4 148.3,473.7 148.8,473.5 149.4,475.4 150.6,474.7 151.7,476.8 152.3,476.2 152.9,478.4 153.5,478.1 154.3,480.2 155.0,479.6 155.8,482.0 156.9,481.4 158.1,483.9 158.9,484.0 159.8,486.2 161.5,484.8 162.4,486.7 163.3,486.5 164.3,488.0 165.2,487.5 166.2,489.2 167.1,489.0 168.1,490.9 169.0,490.5 170.0,492.3 170.9,492.3 171.9,493.6 173.1,493.6 174.2,494.7 175.4,494.8 176.6,495.7 177.7,495.4 178.8,496.5 180.0,496.4 181.2,497.4 182.3,497.4 183.5,498.0 184.8,497.9 186.1,498.2 187.4,498.4 188.7,498.5 190.0,499.9 191.1,499.9 192.2,499.9 193.3,499.9 194.4,499.9 195.6,499.9 196.7,499.9 197.8,499.9 198.9,499.9 200.0,499.9 201.1,499.9 202.2,499.9 203.3,499.9 204.4,499.9 205.6,499.9 206.7,499.9 207.8,499.9 208.9,499.9 210.0,499.9 211.1,499.9 212.2,499.9 213.3,499.9 214.4,499.9 215.6,499.9 216.7,499.9 217.8,499.9 218.9,499.9 220.0,499.9 221.1,499.9 222.2,499.9 223.3,499.9 224.4,499.9 225.6,499.9 226.7,499.9 227.8,499.9 228.9,499.9 230.0,499.9 231.1,499.9 232.2,499.9 233.3,499.9 234.4,499.9 235.6,499.9 236.7,499.9 237.8,499.9 238.9,499.9 240.0,499.9" fill="none" stroke="#1a1a1a" stroke-width="1.05" stroke-linejoin="round" clip-path="url(#cC)"/>
<polyline points="150.0,499.9 151.2,499.9 152.3,499.9 153.5,499.9 154.7,499.9 155.8,499.9 157.0,499.9 158.1,498.3 159.3,497.6 160.4,497.0 160.9,495.9 161.3,495.1 161.8,493.9 162.2,493.1 162.7,492.0 163.2,490.9 163.6,489.5 164.1,488.5 164.5,487.1 165.0,486.1 165.3,484.8 165.6,483.8 165.8,482.4 166.1,481.4 166.4,480.1 166.7,479.0 166.9,477.8 167.1,476.7 167.3,475.4 167.5,474.4 167.7,473.1 167.9,472.0 168.0,470.9 168.1,469.8 168.3,468.6 168.4,467.6 168.5,466.4 168.6,465.4 168.8,464.2 168.9,463.2 169.0,462.0 169.1,460.9 169.2,459.6 169.3,458.5 169.4,457.2 169.5,456.1 169.6,454.8 169.7,453.8 169.8,452.6 169.9,451.5 170.0,450.3 170.1,449.3 170.3,448.0 170.4,447.0 170.5,445.8 170.6,444.7 170.7,443.5 170.8,442.4 170.9,441.2 171.0,440.2 171.1,439.0 171.2,438.0 171.3,436.7 171.5,435.8 171.6,434.5 171.7,433.5 171.8,432.3 171.9,431.2 172.0,430.1 172.1,429.0 172.2,427.8 172.2,426.7 172.3,425.5 172.4,424.4 172.4,423.1 172.5,422.1 172.6,420.9 172.7,419.7 172.7,418.5 172.8,417.3 172.8,416.1 172.9,414.9 172.9,413.7 173.0,412.5 173.0,411.3 173.1,410.1 173.2,408.9 173.3,407.8 173.4,406.6 173.5,405.5 173.6,404.2 173.7,403.2 173.8,401.9 173.9,400.8 173.9,399.6 174.0,398.5 174.0,397.3 174.1,396.2 174.1,395.0 174.1,393.9 174.2,392.7 174.2,391.6 174.3,390.4 174.4,389.4 174.4,388.2 174.5,387.2 174.6,386.0 174.7,385.0 174.7,383.8 174.8,382.8 174.9,381.5 175.0,382.8 175.2,383.8 175.3,385.1 175.4,386.1 175.6,387.4 175.7,388.2 176.1,389.9 176.6,390.3 177.0,392.0 177.5,392.2 178.0,393.9 178.5,394.7 178.6,393.6 178.7,392.2 178.8,391.1 179.0,389.8 179.1,388.7 179.2,387.4 179.3,386.3 179.4,387.3 179.5,388.6 179.7,389.6 179.8,390.9 179.9,391.9 180.0,393.1 180.1,394.2 180.2,395.3 180.3,396.4 180.5,397.6 180.6,398.5 180.7,399.8 180.8,400.8 180.9,402.0 181.0,403.0 181.1,404.2 181.3,405.2 181.4,406.4 181.5,407.3 181.6,408.5 181.7,409.5 181.8,410.8 181.9,411.8 182.0,412.9 182.1,413.9 182.2,415.2 182.3,416.1 182.4,417.3 182.5,418.3 182.6,419.6 182.8,420.6 182.9,421.8 183.0,422.7 183.1,423.9 183.2,424.9 183.3,426.2 183.4,427.2 183.6,428.4 183.7,429.4 183.8,430.6 183.9,431.6 184.0,432.8 184.1,433.9 184.2,435.1 184.3,436.2 184.4,437.5 184.5,438.5 184.6,439.8 184.7,440.9 184.8,442.1 184.9,443.1 185.0,444.3 185.1,445.3 185.2,446.6 185.3,447.6 185.4,448.8 185.5,449.8 185.6,451.1 185.8,452.2 186.0,453.6 186.2,454.7 186.4,456.0 186.5,457.2 186.7,458.5 186.8,459.7 186.9,461.1 187.1,462.2 187.2,463.6 187.4,464.7 187.6,466.0 187.8,467.2 187.9,468.5 188.1,469.6 188.3,470.9 188.5,472.0 188.7,473.4 189.0,474.5 189.2,475.8 189.5,476.9 189.7,478.2 190.0,479.3 190.2,480.7 190.6,481.7 191.1,483.1 191.5,484.1 192.0,485.5 192.4,486.5 192.8,488.0 193.2,489.3 193.6,490.9 194.3,491.8 195.1,493.1 195.8,494.1 196.9,495.1 197.9,495.9 199.2,496.6 200.5,497.1 201.8,497.7 203.0,498.1 204.2,498.3 205.5,498.5 206.8,499.9 208.0,499.9 209.1,499.9 210.2,499.9 211.3,499.9 212.4,499.9 213.5,499.9 214.6,499.9 215.7,499.9 216.8,499.9 217.9,499.9 219.0,499.9 220.1,499.9 221.2,499.9 222.3,499.9 223.4,499.9 224.6,499.9 225.7,499.9 226.8,499.9 227.9,499.9 229.0,499.9 230.1,499.9 231.2,499.9 232.3,499.9 233.4,499.9 234.5,499.9 235.6,499.9 236.7,499.9 237.8,499.9 238.9,499.9 240.0,499.9" fill="none" stroke="#36338e" stroke-width="1.15" stroke-linejoin="round" clip-path="url(#cC)"/>
<polyline points="59.5,499.9 60.6,499.9 61.7,499.9 62.8,499.9 63.9,499.9 65.0,499.9 66.1,499.9 67.2,499.9 68.4,499.9 69.5,499.9 70.6,499.9 71.7,499.9 72.8,499.9 73.9,499.9 75.0,499.9 76.2,499.9 77.4,499.9 78.5,498.6 79.7,498.5 80.9,498.3 82.1,498.2 83.3,498.2 84.5,497.9 85.6,497.9 86.8,497.5 88.0,497.7 89.1,497.1 90.2,497.2 91.4,496.4 92.5,496.5 93.6,496.4 94.8,497.1 95.9,496.8 97.0,497.9 98.0,498.4 99.2,498.4 100.4,498.5 101.6,498.5 102.8,498.6 104.0,499.9 105.2,499.9 106.4,499.9 107.6,499.9 108.8,499.9 110.0,499.9 111.1,499.9 112.2,499.9 113.3,499.9 114.4,499.9 115.6,499.9 116.7,499.9 117.8,499.9 118.9,499.9 120.0,499.9 121.1,499.9 122.2,499.9 123.3,499.9 124.4,499.9 125.6,499.9 126.7,499.9 127.8,499.9 128.9,499.9 130.0,499.9 131.1,499.9 132.2,499.9 133.3,499.9 134.4,499.9 135.6,499.9 136.7,499.9 137.8,499.9 138.9,499.9 140.0,499.9 141.1,499.9 142.2,499.9 143.3,499.9 144.4,499.9 145.6,499.9 146.7,499.9 147.8,499.9 148.9,499.9 150.0,499.9 151.2,499.9 152.3,499.9 153.5,499.9 154.6,498.6 155.8,498.5 156.9,497.8 158.1,497.5 158.9,496.2 159.6,495.6 160.4,494.2 160.9,493.6 161.3,492.2 161.8,491.4 162.2,490.1 162.7,489.5 163.2,487.7 163.6,487.1 164.1,485.6 164.5,484.9 165.0,483.3 165.3,482.6 165.6,481.0 165.8,480.2 166.1,478.7 166.4,478.0 166.7,476.3 166.9,475.4 167.1,474.1 167.3,473.3 167.5,471.7 167.7,470.9 167.9,469.4 168.1,468.5 168.2,467.2 168.4,466.2 168.5,464.9 168.7,463.9 168.8,462.5 169.0,461.6 169.1,460.3 169.2,459.3 169.3,458.0 169.5,457.0 169.6,455.7 169.7,454.7 169.8,453.4 169.9,452.5 170.1,451.0 170.2,450.3 170.3,448.9 170.4,448.1 170.6,446.6 170.7,445.9 170.8,444.4 171.0,443.5 171.1,442.1 171.2,441.3 171.3,439.8 171.5,439.1 171.6,437.5 171.7,436.9 171.9,435.3 172.0,434.7 172.1,433.1 172.3,432.4 172.4,430.8 172.6,430.2 172.7,428.6 172.8,427.9 173.0,426.4 173.1,425.7 173.3,424.0 173.5,423.6 173.7,421.8 174.0,421.4 174.2,419.5 174.4,419.0 174.6,417.1 176.2,416.5 176.5,414.5 176.8,414.4 177.1,412.1 177.4,411.6 177.7,409.7 177.9,409.4 178.2,407.6 178.4,407.2 178.6,405.4 178.8,405.1 179.1,403.0 179.3,403.0 179.6,403.3 179.9,405.4 180.2,405.8 180.5,407.6 180.8,408.2 181.0,410.0 181.2,410.5 181.4,412.3 181.6,412.7 181.7,414.5 181.9,415.2 182.1,416.9 182.3,417.5 182.5,419.0 182.8,419.5 183.0,421.4 183.2,421.8 183.4,423.6 183.7,424.0 183.9,425.7 184.1,426.5 184.3,428.2 184.5,428.7 184.7,430.3 184.8,430.9 185.0,432.6 185.2,433.3 185.4,434.9 185.6,435.7 185.8,437.2 186.0,438.0 186.2,439.5 186.4,440.3 186.6,442.0 186.8,442.7 187.0,444.3 187.2,445.0 187.4,446.5 187.6,447.1 187.8,448.7 187.9,449.3 188.1,451.0 188.3,451.6 188.5,453.1 188.7,454.0 188.8,455.4 189.0,456.2 189.2,457.9 189.3,458.6 189.5,460.2 189.7,460.8 190.0,462.6 190.2,463.3 190.4,465.0 190.7,465.8 190.9,467.5 191.2,468.3 191.4,469.8 191.7,470.7 191.9,472.2 192.1,473.1 192.4,474.8 192.6,475.6 192.9,477.2 193.1,478.0 193.4,479.5 193.6,480.4 194.1,481.8 194.6,482.4 195.2,483.9 195.7,484.5 196.2,485.9 196.6,486.5 197.1,488.3 197.5,489.0 197.8,490.6 198.0,491.8 198.3,493.5 198.9,494.5 199.6,496.0 200.9,496.3 202.2,497.5 203.3,497.3 204.5,498.0 205.6,498.1 206.7,498.3 207.8,498.5 208.9,499.9 210.0,499.9 211.1,499.9 212.2,499.9 213.3,499.9 214.4,499.9 215.6,499.9 216.7,499.9 217.8,499.9 218.9,499.9 220.0,499.9 221.1,499.9 222.2,499.9 223.3,499.9 224.4,499.9 225.6,499.9 226.7,499.9 227.8,499.9 228.9,499.9 230.0,499.9 231.1,499.9 232.2,499.9 233.3,499.9 234.4,499.9 235.6,499.9 236.7,499.9 237.8,499.9 238.9,499.9 240.0,499.9" fill="none" stroke="#d0282f" stroke-width="1.15" stroke-linejoin="round" clip-path="url(#cC)"/>
<rect x="59.2" y="363.8" width="181.0" height="135.5" fill="none" stroke="#111" stroke-width="1.7"/>
<line x1="54.7" x2="59.2" y1="499.30" y2="499.30" stroke="#111" stroke-width="1.4"/>
<text x="50.20" y="502.80" class="tk" text-anchor="end">0</text>
<line x1="54.7" x2="59.2" y1="465.43" y2="465.43" stroke="#111" stroke-width="1.4"/>
<text x="50.20" y="468.93" class="tk" text-anchor="end">200</text>
<line x1="54.7" x2="59.2" y1="431.55" y2="431.55" stroke="#111" stroke-width="1.4"/>
<text x="50.20" y="435.05" class="tk" text-anchor="end">400</text>
<line x1="54.7" x2="59.2" y1="397.68" y2="397.68" stroke="#111" stroke-width="1.4"/>
<text x="50.20" y="401.18" class="tk" text-anchor="end">600</text>
<line x1="54.7" x2="59.2" y1="363.80" y2="363.80" stroke="#111" stroke-width="1.4"/>
<text x="50.20" y="367.30" class="tk" text-anchor="end">800</text>
<line x1="59.24" x2="59.24" y1="499.3" y2="503.5" stroke="#111" stroke-width="1.3"/>
<line x1="66.02" x2="66.02" y1="499.3" y2="503.5" stroke="#111" stroke-width="1.3"/>
<line x1="70.83" x2="70.83" y1="499.3" y2="503.5" stroke="#111" stroke-width="1.3"/>
<line x1="74.56" x2="74.56" y1="499.3" y2="503.5" stroke="#111" stroke-width="1.3"/>
<line x1="77.61" x2="77.61" y1="499.3" y2="503.5" stroke="#111" stroke-width="1.3"/>
<line x1="80.19" x2="80.19" y1="499.3" y2="503.5" stroke="#111" stroke-width="1.3"/>
<line x1="82.43" x2="82.43" y1="499.3" y2="503.5" stroke="#111" stroke-width="1.3"/>
<line x1="84.40" x2="84.40" y1="499.3" y2="503.5" stroke="#111" stroke-width="1.3"/>
<line x1="86.16" x2="86.16" y1="499.3" y2="503.5" stroke="#111" stroke-width="1.3"/>
<line x1="97.75" x2="97.75" y1="499.3" y2="503.5" stroke="#111" stroke-width="1.3"/>
<line x1="104.53" x2="104.53" y1="499.3" y2="503.5" stroke="#111" stroke-width="1.3"/>
<line x1="109.34" x2="109.34" y1="499.3" y2="503.5" stroke="#111" stroke-width="1.3"/>
<line x1="113.08" x2="113.08" y1="499.3" y2="503.5" stroke="#111" stroke-width="1.3"/>
<line x1="116.12" x2="116.12" y1="499.3" y2="503.5" stroke="#111" stroke-width="1.3"/>
<line x1="118.70" x2="118.70" y1="499.3" y2="503.5" stroke="#111" stroke-width="1.3"/>
<line x1="120.94" x2="120.94" y1="499.3" y2="503.5" stroke="#111" stroke-width="1.3"/>
<line x1="122.91" x2="122.91" y1="499.3" y2="503.5" stroke="#111" stroke-width="1.3"/>
<line x1="124.67" x2="124.67" y1="499.3" y2="503.5" stroke="#111" stroke-width="1.3"/>
<line x1="136.26" x2="136.26" y1="499.3" y2="503.5" stroke="#111" stroke-width="1.3"/>
<line x1="143.04" x2="143.04" y1="499.3" y2="503.5" stroke="#111" stroke-width="1.3"/>
<line x1="147.85" x2="147.85" y1="499.3" y2="503.5" stroke="#111" stroke-width="1.3"/>
<line x1="151.59" x2="151.59" y1="499.3" y2="503.5" stroke="#111" stroke-width="1.3"/>
<line x1="154.64" x2="154.64" y1="499.3" y2="503.5" stroke="#111" stroke-width="1.3"/>
<line x1="157.21" x2="157.21" y1="499.3" y2="503.5" stroke="#111" stroke-width="1.3"/>
<line x1="159.45" x2="159.45" y1="499.3" y2="503.5" stroke="#111" stroke-width="1.3"/>
<line x1="161.42" x2="161.42" y1="499.3" y2="503.5" stroke="#111" stroke-width="1.3"/>
<line x1="163.18" x2="163.18" y1="499.3" y2="503.5" stroke="#111" stroke-width="1.3"/>
<line x1="174.77" x2="174.77" y1="499.3" y2="503.5" stroke="#111" stroke-width="1.3"/>
<line x1="181.55" x2="181.55" y1="499.3" y2="503.5" stroke="#111" stroke-width="1.3"/>
<line x1="186.36" x2="186.36" y1="499.3" y2="503.5" stroke="#111" stroke-width="1.3"/>
<line x1="190.10" x2="190.10" y1="499.3" y2="503.5" stroke="#111" stroke-width="1.3"/>
<line x1="193.15" x2="193.15" y1="499.3" y2="503.5" stroke="#111" stroke-width="1.3"/>
<line x1="195.72" x2="195.72" y1="499.3" y2="503.5" stroke="#111" stroke-width="1.3"/>
<line x1="197.96" x2="197.96" y1="499.3" y2="503.5" stroke="#111" stroke-width="1.3"/>
<line x1="199.93" x2="199.93" y1="499.3" y2="503.5" stroke="#111" stroke-width="1.3"/>
<line x1="201.69" x2="201.69" y1="499.3" y2="503.5" stroke="#111" stroke-width="1.3"/>
<line x1="213.28" x2="213.28" y1="499.3" y2="503.5" stroke="#111" stroke-width="1.3"/>
<line x1="220.06" x2="220.06" y1="499.3" y2="503.5" stroke="#111" stroke-width="1.3"/>
<line x1="224.88" x2="224.88" y1="499.3" y2="503.5" stroke="#111" stroke-width="1.3"/>
<line x1="228.61" x2="228.61" y1="499.3" y2="503.5" stroke="#111" stroke-width="1.3"/>
<line x1="231.66" x2="231.66" y1="499.3" y2="503.5" stroke="#111" stroke-width="1.3"/>
<line x1="234.23" x2="234.23" y1="499.3" y2="503.5" stroke="#111" stroke-width="1.3"/>
<line x1="236.47" x2="236.47" y1="499.3" y2="503.5" stroke="#111" stroke-width="1.3"/>
<line x1="238.44" x2="238.44" y1="499.3" y2="503.5" stroke="#111" stroke-width="1.3"/>
<line x1="240.20" x2="240.20" y1="499.3" y2="503.5" stroke="#111" stroke-width="1.3"/>
<text x="58.50" y="518.30" class="tx" text-anchor="middle"><tspan class="h1">1</tspan>0<tspan class="sup" dx="0.4" dy="-5.0"><tspan class="h1">1</tspan>.3</tspan></text>
<text x="85.46" y="518.30" class="tx" text-anchor="middle"><tspan class="h1">1</tspan>0<tspan class="sup" dx="0.4" dy="-5.0">2</tspan></text>
<text x="123.97" y="518.30" class="tx" text-anchor="middle"><tspan class="h1">1</tspan>0<tspan class="sup" dx="0.4" dy="-5.0">3</tspan></text>
<text x="162.48" y="518.30" class="tx" text-anchor="middle"><tspan class="h1">1</tspan>0<tspan class="sup" dx="0.4" dy="-5.0">4</tspan></text>
<text x="200.99" y="518.30" class="tx" text-anchor="middle"><tspan class="h1">1</tspan>0<tspan class="sup" dx="0.4" dy="-5.0">5</tspan></text>
<text x="239.50" y="518.30" class="tx" text-anchor="middle"><tspan class="h1">1</tspan>0<tspan class="sup" dx="0.4" dy="-5.0">6</tspan></text>
<text x="149.70" y="537.70" class="ax" text-anchor="middle" transform="translate(149.70 0) scale(0.628 1) translate(-149.70 0)">Fluorescence</text>
<text x="0" y="0" class="ax" text-anchor="middle" transform="translate(22.00 431.55) rotate(-90) scale(0.642 1)">Cell count</text>
<text x="67.40" y="381.40" class="tt">Alexa-R2<tspan class="h1">1</tspan>D<tspan class="h1">1</tspan>0</text>
<text x="271.2" y="301.1" class="let">D</text>
<line x1="320.5" x2="334.0" y1="311.30" y2="311.30" stroke="#3a3890" stroke-width="1.6"/>
<text x="338.5" y="315.20" class="lg" fill="#3a3890">Alexa 488-<tspan class="h1">1</tspan>0E5</text>
<line x1="320.5" x2="334.0" y1="327.90" y2="327.90" stroke="#1a1a1a" stroke-width="1.6"/>
<text x="338.5" y="331.80" class="lg" fill="#1a1a1a">+ unlabeled <tspan class="h1">1</tspan>0E5</text>
<line x1="320.5" x2="334.0" y1="344.50" y2="344.50" stroke="#cf2636" stroke-width="1.6"/>
<text x="338.5" y="348.40" class="lg" fill="#cf2636">+ EDTA, 37°C</text>
<clipPath id="cD"><rect x="320.6" y="363.8" width="181.0" height="135.5"/></clipPath>
<polyline points="321.0,499.9 322.2,499.9 323.3,499.9 324.5,499.9 325.7,499.9 326.8,499.9 328.0,499.9 329.2,499.9 330.3,499.9 331.5,499.9 332.7,499.9 333.8,499.9 335.0,499.9 336.1,499.9 337.2,499.9 338.3,499.9 339.4,499.9 340.5,498.5 341.6,498.4 342.8,498.2 343.9,497.9 345.0,498.1 346.4,497.2 347.9,497.1 348.9,496.2 349.8,496.2 350.8,494.9 351.6,494.8 352.4,493.0 353.2,492.9 354.0,491.2 354.8,490.6 355.6,488.9 356.1,488.1 356.5,486.4 357.0,485.6 357.3,483.8 357.5,483.1 357.8,481.2 358.1,480.5 358.4,478.7 358.7,478.0 359.0,476.3 359.3,475.5 359.6,473.7 359.9,473.4 360.3,471.5 360.6,471.0 361.0,469.3 361.2,468.6 361.4,467.0 361.6,466.3 361.8,464.7 362.0,464.3 362.2,462.5 362.4,461.9 362.6,460.3 362.8,459.5 363.0,458.1 363.2,457.3 363.4,455.6 363.7,455.2 363.9,453.5 364.1,452.8 364.4,451.1 364.6,450.7 364.9,449.0 365.1,448.4 365.3,446.6 365.5,445.8 365.7,444.3 365.9,443.3 366.1,441.7 366.3,440.7 366.4,439.2 366.5,438.3 366.6,436.6 366.8,435.8 366.9,434.1 367.0,433.2 367.1,431.5 367.2,430.6 367.4,429.0 367.5,428.0 367.6,425.7 368.0,426.4 368.5,423.8 368.9,423.9 369.2,421.7 369.5,421.8 369.9,419.3 370.2,419.4 370.4,417.6 370.6,416.7 370.8,415.0 371.0,414.2 371.2,411.3 372.1,413.5 372.5,413.1 372.9,415.7 373.3,415.9 373.7,418.8 374.2,418.4 374.6,422.2 375.9,421.0 376.3,423.5 376.7,423.3 377.1,425.6 377.3,426.1 377.5,427.9 377.7,428.3 377.8,430.1 378.0,430.3 378.2,432.2 378.4,432.7 378.6,434.3 378.7,435.1 378.9,436.6 379.0,437.1 379.2,438.9 379.4,439.5 379.5,441.0 379.7,441.7 379.9,443.5 380.1,444.2 380.3,446.1 380.5,446.8 380.7,448.4 380.9,449.3 381.1,450.9 381.3,451.6 381.5,453.2 381.8,453.9 382.0,455.7 382.2,456.2 382.4,458.1 382.7,458.6 382.9,460.3 383.2,461.0 383.4,463.0 383.7,463.7 383.9,465.1 384.1,465.8 384.2,467.5 384.4,468.3 384.6,469.9 384.8,470.6 385.1,472.1 385.5,472.6 385.8,474.5 386.2,475.0 386.5,476.8 386.9,477.3 387.2,479.0 387.6,479.8 387.9,481.3 388.3,481.8 388.9,483.8 389.4,483.8 390.0,485.7 390.6,485.9 391.1,487.4 391.7,487.8 392.3,489.8 392.9,490.4 393.5,492.4 394.4,492.7 395.2,494.0 396.6,494.0 398.1,495.2 399.1,495.1 400.0,496.3 401.0,496.4 402.1,497.3 403.3,497.3 404.4,498.1 405.5,498.2 406.7,498.5 408.1,499.9 409.6,499.9 410.8,499.9 411.9,499.9 413.1,499.9 414.2,499.9 415.4,499.9 416.5,499.9 417.7,499.9 418.8,499.9 420.0,499.9 421.1,499.9 422.2,499.9 423.3,499.9 424.4,499.9 425.5,499.9 426.7,499.9 427.8,499.9 428.9,499.9 430.0,499.9 431.1,499.9 432.2,499.9 433.3,499.9 434.4,499.9 435.5,499.9 436.6,499.9 437.8,499.9 438.9,499.9 440.0,499.9 441.1,499.9 442.2,499.9 443.3,499.9 444.4,499.9 445.5,499.9 446.6,499.9 447.7,499.9 448.8,499.9 450.0,499.9 451.1,499.9 452.2,499.9 453.3,499.9 454.4,499.9 455.5,499.9 456.6,499.9 457.7,499.9 458.8,499.9 459.9,499.9 461.1,499.9 462.2,499.9 463.3,499.9 464.4,499.9 465.5,499.9 466.6,499.9 467.7,499.9 468.8,499.9 469.9,499.9 471.0,499.9 472.2,499.9 473.3,499.9 474.4,499.9 475.5,499.9 476.6,499.9 477.7,499.9 478.8,499.9 479.9,499.9 481.0,499.9 482.1,499.9 483.2,499.9 484.4,499.9 485.5,499.9 486.6,499.9 487.7,499.9 488.8,499.9 489.9,499.9 491.0,499.9 492.1,499.9 493.2,499.9 494.3,499.9 495.5,499.9 496.6,499.9 497.7,499.9 498.8,499.9 499.9,499.9 501.0,499.9" fill="none" stroke="#1a1a1a" stroke-width="1.05" stroke-linejoin="round" clip-path="url(#cD)"/>
<polyline points="321.0,499.9 322.1,499.9 323.2,499.9 324.3,499.9 325.5,499.9 326.6,499.9 327.7,499.9 328.8,499.9 329.9,499.9 331.0,499.9 332.1,499.9 333.2,499.9 334.4,499.9 335.5,499.9 336.6,499.9 337.7,499.9 338.8,499.9 339.9,499.9 341.0,499.9 342.1,499.9 343.3,499.9 344.4,499.9 345.5,499.9 346.6,499.9 347.7,499.9 348.8,499.9 349.9,499.9 351.0,499.9 352.2,499.9 353.3,499.9 354.4,499.9 355.5,499.9 356.6,499.9 357.7,499.9 358.8,499.9 359.9,499.9 361.1,499.9 362.2,499.9 363.3,499.9 364.4,499.9 365.5,499.9 366.6,499.9 367.7,499.9 368.8,499.9 370.0,499.9 371.1,499.9 372.2,499.9 373.3,499.9 374.4,499.9 375.5,499.9 376.6,499.9 377.7,499.9 378.9,499.9 380.0,499.9 381.1,499.9 382.2,499.9 383.3,499.9 384.4,499.9 385.5,499.9 386.6,499.9 387.8,499.9 388.9,499.9 390.0,499.9 391.1,499.9 392.2,499.9 393.3,499.9 394.4,499.9 395.5,499.9 396.7,499.9 397.8,499.9 398.9,499.9 400.0,499.9 401.1,499.9 402.2,499.9 403.4,499.9 404.5,499.9 405.6,498.5 407.3,497.4 408.1,496.1 409.0,495.1 409.9,493.7 410.8,492.7 411.4,491.4 411.9,490.4 412.5,489.2 412.8,488.1 413.2,486.8 413.5,485.9 413.9,484.6 414.2,483.6 414.4,482.3 414.7,481.3 414.9,480.0 415.2,478.9 415.4,477.7 415.5,476.5 415.7,475.2 415.8,474.1 415.9,472.8 416.1,471.7 416.2,470.4 416.4,469.3 416.5,468.0 416.6,466.9 416.8,465.7 416.9,464.7 417.1,463.4 417.2,462.4 417.4,461.2 417.6,460.2 417.7,458.9 417.8,457.8 417.9,456.5 418.0,455.4 418.2,454.1 418.3,453.0 418.4,451.7 418.5,450.6 418.6,449.3 418.8,448.2 418.9,446.9 419.0,445.8 419.2,444.6 419.3,443.5 419.4,442.2 419.5,441.1 419.7,439.9 419.8,438.8 419.9,437.5 420.1,436.5 420.2,435.1 420.3,434.1 420.5,432.9 420.6,431.9 420.7,430.7 420.9,429.7 421.0,428.5 421.1,427.5 421.2,426.3 421.4,425.3 421.5,424.0 421.8,423.0 422.0,421.5 422.2,420.5 422.5,419.0 422.8,418.0 423.0,416.5 423.4,415.5 423.8,413.8 424.2,412.8 425.4,411.1 426.5,411.8 427.6,410.9 428.6,412.9 429.0,413.4 429.4,414.9 429.6,415.9 429.9,417.3 430.1,418.2 430.4,419.5 430.6,420.6 430.8,421.9 431.1,422.8 431.3,424.2 431.6,425.2 431.9,426.7 432.2,427.6 432.5,429.2 432.8,430.2 433.1,431.6 433.5,432.4 433.9,433.8 434.2,434.6 434.6,436.0 435.0,436.9 435.1,438.2 435.2,439.3 435.3,440.5 435.4,441.6 435.6,442.9 435.7,443.9 435.8,445.2 435.9,446.3 436.0,447.5 436.2,448.5 436.3,449.8 436.5,450.8 436.6,452.0 436.8,453.1 436.9,454.3 437.1,455.4 437.2,456.6 437.4,457.6 437.5,458.9 437.7,459.9 437.8,461.2 438.0,462.1 438.2,463.4 438.3,464.3 438.5,465.6 438.7,466.6 438.9,467.8 439.1,468.8 439.2,470.0 439.4,471.1 439.6,472.3 439.9,473.3 440.2,474.5 440.4,475.4 440.7,476.7 441.0,477.7 441.3,478.9 441.6,479.9 441.8,481.1 442.1,482.1 442.4,483.4 442.8,484.2 443.2,485.5 443.6,486.4 444.0,487.6 444.4,488.5 444.8,489.7 445.2,490.6 445.9,491.8 446.7,492.5 447.4,493.6 448.2,494.3 448.9,495.5 450.0,496.0 451.2,496.8 452.4,497.4 453.5,498.1 454.6,498.3 455.7,498.5 456.9,499.9 458.0,499.9 459.1,499.9 460.3,499.9 461.5,499.9 462.7,499.9 463.9,499.9 465.2,499.9 466.4,499.9 467.6,499.9 468.8,499.9 470.0,499.9 471.1,499.9 472.2,499.9 473.3,499.9 474.4,499.9 475.5,499.9 476.6,499.9 477.8,499.9 478.9,499.9 480.0,499.9 481.1,499.9 482.2,499.9 483.3,499.9 484.4,499.9 485.5,499.9 486.6,499.9 487.7,499.9 488.8,499.9 489.9,499.9 491.0,499.9 492.1,499.9 493.2,499.9 494.4,499.9 495.5,499.9 496.6,499.9 497.7,499.9 498.8,499.9 499.9,499.9 501.0,499.9" fill="none" stroke="#36338e" stroke-width="1.15" stroke-linejoin="round" clip-path="url(#cD)"/>
<polyline points="321.0,499.9 321.9,499.9 323.1,498.5 324.2,498.4 325.4,498.2 326.5,498.2 327.7,497.8 329.0,497.7 330.2,497.1 331.5,497.1 332.9,496.4 334.4,496.6 336.3,495.6 337.8,495.5 339.2,495.5 340.7,494.9 341.9,493.6 343.1,493.5 345.0,493.3 345.7,492.6 346.4,491.0 347.9,491.1 349.8,489.3 350.8,488.9 351.7,486.9 353.2,489.2 354.6,487.5 355.6,487.3 356.5,485.8 357.2,485.8 358.0,484.1 359.4,485.5 360.9,485.3 362.3,485.2 364.2,484.1 365.7,484.1 366.4,482.5 367.1,482.5 368.6,483.2 370.0,483.3 370.5,481.6 370.9,481.0 371.4,479.0 372.5,479.0 373.6,476.7 375.0,476.4 375.9,474.1 376.7,474.2 377.6,472.5 378.5,472.4 379.1,470.2 379.6,469.9 380.2,468.0 380.8,468.2 381.3,466.1 381.9,466.6 382.7,463.9 383.4,464.5 384.2,461.7 385.0,462.2 385.7,460.1 386.5,460.5 387.1,458.0 387.7,458.2 388.3,456.0 388.9,456.5 389.4,454.2 390.0,454.3 390.6,452.5 391.2,452.6 392.0,452.4 392.9,454.9 394.6,453.4 396.3,454.0 396.7,454.3 397.0,456.0 397.4,456.1 397.7,458.0 398.1,457.9 399.8,459.9 400.6,459.5 401.5,462.0 402.3,461.3 403.0,463.9 403.8,463.4 404.2,465.3 404.6,465.7 405.0,467.6 405.2,468.2 405.5,469.8 405.7,470.6 406.0,472.1 406.2,472.7 406.6,474.5 407.0,475.2 407.5,476.8 407.9,477.4 408.5,479.2 409.0,480.1 409.6,481.9 410.2,482.2 410.7,484.0 411.3,484.2 411.9,486.1 412.5,486.7 413.1,488.5 413.7,489.2 414.2,491.0 414.8,491.8 416.0,493.2 417.1,493.6 418.1,494.6 419.0,494.7 420.0,495.9 421.1,496.3 422.3,497.5 423.5,498.1 424.6,499.9 426.0,499.9 427.3,499.9 428.6,499.9 430.0,499.9 431.1,499.9 432.2,499.9 433.3,499.9 434.4,499.9 435.5,499.9 436.7,499.9 437.8,499.9 438.9,499.9 440.0,499.9 441.1,499.9 442.2,499.9 443.3,499.9 444.4,499.9 445.5,499.9 446.6,499.9 447.8,499.9 448.9,499.9 450.0,499.9 451.1,499.9 452.2,499.9 453.3,499.9 454.4,499.9 455.5,499.9 456.6,499.9 457.7,499.9 458.8,499.9 460.0,499.9 461.1,499.9 462.2,499.9 463.3,499.9 464.4,499.9 465.5,499.9 466.6,499.9 467.7,499.9 468.8,499.9 469.9,499.9 471.0,499.9 472.2,499.9 473.3,499.9 474.4,499.9 475.5,499.9 476.6,499.9 477.7,499.9 478.8,499.9 479.9,499.9 481.0,499.9 482.1,499.9 483.2,499.9 484.4,499.9 485.5,499.9 486.6,499.9 487.7,499.9 488.8,499.9 489.9,499.9 491.0,499.9 492.1,499.9 493.2,499.9 494.3,499.9 495.5,499.9 496.6,499.9 497.7,499.9 498.8,499.9 499.9,499.9 501.0,499.9" fill="none" stroke="#d0282f" stroke-width="1.15" stroke-linejoin="round" clip-path="url(#cD)"/>
<rect x="320.6" y="363.8" width="181.0" height="135.5" fill="none" stroke="#111" stroke-width="1.7"/>
<line x1="316.1" x2="320.6" y1="499.30" y2="499.30" stroke="#111" stroke-width="1.4"/>
<text x="311.60" y="502.80" class="tk" text-anchor="end">0</text>
<line x1="316.1" x2="320.6" y1="465.43" y2="465.43" stroke="#111" stroke-width="1.4"/>
<text x="311.60" y="468.93" class="tk" text-anchor="end">200</text>
<line x1="316.1" x2="320.6" y1="431.55" y2="431.55" stroke="#111" stroke-width="1.4"/>
<text x="311.60" y="435.05" class="tk" text-anchor="end">400</text>
<line x1="316.1" x2="320.6" y1="397.68" y2="397.68" stroke="#111" stroke-width="1.4"/>
<text x="311.60" y="401.18" class="tk" text-anchor="end">600</text>
<line x1="316.1" x2="320.6" y1="363.80" y2="363.80" stroke="#111" stroke-width="1.4"/>
<text x="311.60" y="367.30" class="tk" text-anchor="end">800</text>
<line x1="320.64" x2="320.64" y1="499.3" y2="503.5" stroke="#111" stroke-width="1.3"/>
<line x1="327.42" x2="327.42" y1="499.3" y2="503.5" stroke="#111" stroke-width="1.3"/>
<line x1="332.23" x2="332.23" y1="499.3" y2="503.5" stroke="#111" stroke-width="1.3"/>
<line x1="335.96" x2="335.96" y1="499.3" y2="503.5" stroke="#111" stroke-width="1.3"/>
<line x1="339.01" x2="339.01" y1="499.3" y2="503.5" stroke="#111" stroke-width="1.3"/>
<line x1="341.59" x2="341.59" y1="499.3" y2="503.5" stroke="#111" stroke-width="1.3"/>
<line x1="343.83" x2="343.83" y1="499.3" y2="503.5" stroke="#111" stroke-width="1.3"/>
<line x1="345.80" x2="345.80" y1="499.3" y2="503.5" stroke="#111" stroke-width="1.3"/>
<line x1="347.56" x2="347.56" y1="499.3" y2="503.5" stroke="#111" stroke-width="1.3"/>
<line x1="359.15" x2="359.15" y1="499.3" y2="503.5" stroke="#111" stroke-width="1.3"/>
<line x1="365.93" x2="365.93" y1="499.3" y2="503.5" stroke="#111" stroke-width="1.3"/>
<line x1="370.74" x2="370.74" y1="499.3" y2="503.5" stroke="#111" stroke-width="1.3"/>
<line x1="374.48" x2="374.48" y1="499.3" y2="503.5" stroke="#111" stroke-width="1.3"/>
<line x1="377.52" x2="377.52" y1="499.3" y2="503.5" stroke="#111" stroke-width="1.3"/>
<line x1="380.10" x2="380.10" y1="499.3" y2="503.5" stroke="#111" stroke-width="1.3"/>
<line x1="382.34" x2="382.34" y1="499.3" y2="503.5" stroke="#111" stroke-width="1.3"/>
<line x1="384.31" x2="384.31" y1="499.3" y2="503.5" stroke="#111" stroke-width="1.3"/>
<line x1="386.07" x2="386.07" y1="499.3" y2="503.5" stroke="#111" stroke-width="1.3"/>
<line x1="397.66" x2="397.66" y1="499.3" y2="503.5" stroke="#111" stroke-width="1.3"/>
<line x1="404.44" x2="404.44" y1="499.3" y2="503.5" stroke="#111" stroke-width="1.3"/>
<line x1="409.25" x2="409.25" y1="499.3" y2="503.5" stroke="#111" stroke-width="1.3"/>
<line x1="412.99" x2="412.99" y1="499.3" y2="503.5" stroke="#111" stroke-width="1.3"/>
<line x1="416.04" x2="416.04" y1="499.3" y2="503.5" stroke="#111" stroke-width="1.3"/>
<line x1="418.61" x2="418.61" y1="499.3" y2="503.5" stroke="#111" stroke-width="1.3"/>
<line x1="420.85" x2="420.85" y1="499.3" y2="503.5" stroke="#111" stroke-width="1.3"/>
<line x1="422.82" x2="422.82" y1="499.3" y2="503.5" stroke="#111" stroke-width="1.3"/>
<line x1="424.58" x2="424.58" y1="499.3" y2="503.5" stroke="#111" stroke-width="1.3"/>
<line x1="436.17" x2="436.17" y1="499.3" y2="503.5" stroke="#111" stroke-width="1.3"/>
<line x1="442.95" x2="442.95" y1="499.3" y2="503.5" stroke="#111" stroke-width="1.3"/>
<line x1="447.76" x2="447.76" y1="499.3" y2="503.5" stroke="#111" stroke-width="1.3"/>
<line x1="451.50" x2="451.50" y1="499.3" y2="503.5" stroke="#111" stroke-width="1.3"/>
<line x1="454.55" x2="454.55" y1="499.3" y2="503.5" stroke="#111" stroke-width="1.3"/>
<line x1="457.12" x2="457.12" y1="499.3" y2="503.5" stroke="#111" stroke-width="1.3"/>
<line x1="459.36" x2="459.36" y1="499.3" y2="503.5" stroke="#111" stroke-width="1.3"/>
<line x1="461.33" x2="461.33" y1="499.3" y2="503.5" stroke="#111" stroke-width="1.3"/>
<line x1="463.09" x2="463.09" y1="499.3" y2="503.5" stroke="#111" stroke-width="1.3"/>
<line x1="474.68" x2="474.68" y1="499.3" y2="503.5" stroke="#111" stroke-width="1.3"/>
<line x1="481.46" x2="481.46" y1="499.3" y2="503.5" stroke="#111" stroke-width="1.3"/>
<line x1="486.28" x2="486.28" y1="499.3" y2="503.5" stroke="#111" stroke-width="1.3"/>
<line x1="490.01" x2="490.01" y1="499.3" y2="503.5" stroke="#111" stroke-width="1.3"/>
<line x1="493.06" x2="493.06" y1="499.3" y2="503.5" stroke="#111" stroke-width="1.3"/>
<line x1="495.63" x2="495.63" y1="499.3" y2="503.5" stroke="#111" stroke-width="1.3"/>
<line x1="497.87" x2="497.87" y1="499.3" y2="503.5" stroke="#111" stroke-width="1.3"/>
<line x1="499.84" x2="499.84" y1="499.3" y2="503.5" stroke="#111" stroke-width="1.3"/>
<line x1="501.60" x2="501.60" y1="499.3" y2="503.5" stroke="#111" stroke-width="1.3"/>
<text x="319.90" y="518.30" class="tx" text-anchor="middle"><tspan class="h1">1</tspan>0<tspan class="sup" dx="0.4" dy="-5.0"><tspan class="h1">1</tspan>.3</tspan></text>
<text x="346.86" y="518.30" class="tx" text-anchor="middle"><tspan class="h1">1</tspan>0<tspan class="sup" dx="0.4" dy="-5.0">2</tspan></text>
<text x="385.37" y="518.30" class="tx" text-anchor="middle"><tspan class="h1">1</tspan>0<tspan class="sup" dx="0.4" dy="-5.0">3</tspan></text>
<text x="423.88" y="518.30" class="tx" text-anchor="middle"><tspan class="h1">1</tspan>0<tspan class="sup" dx="0.4" dy="-5.0">4</tspan></text>
<text x="462.39" y="518.30" class="tx" text-anchor="middle"><tspan class="h1">1</tspan>0<tspan class="sup" dx="0.4" dy="-5.0">5</tspan></text>
<text x="500.90" y="518.30" class="tx" text-anchor="middle"><tspan class="h1">1</tspan>0<tspan class="sup" dx="0.4" dy="-5.0">6</tspan></text>
<text x="411.10" y="537.70" class="ax" text-anchor="middle" transform="translate(411.10 0) scale(0.628 1) translate(-411.10 0)">Fluorescence</text>
<text x="0" y="0" class="ax" text-anchor="middle" transform="translate(283.40 431.55) rotate(-90) scale(0.642 1)">Cell count</text>
<text x="328.80" y="381.00" class="tt">Alexa-<tspan class="h1">1</tspan>0E5</text>
<path d="M495 0L495 1215L190 1005L190 1190L525 1409L715 1409L715 0Z" transform="translate(141.20 38.20) scale(0.00518 -0.00518)" fill="rgb(58, 56, 144)" stroke="rgb(58, 56, 144)" stroke-width="50"/>
<path d="M495 0L495 1215L190 1005L190 1190L525 1409L715 1409L715 0Z" transform="translate(154.77 38.20) scale(0.00518 -0.00518)" fill="rgb(58, 56, 144)" stroke="rgb(58, 56, 144)" stroke-width="50"/>
<path d="M495 0L495 1215L190 1005L190 1190L525 1409L715 1409L715 0Z" transform="translate(148.58 54.80) scale(0.00518 -0.00518)" fill="rgb(26, 26, 26)" stroke="rgb(26, 26, 26)" stroke-width="50"/>
<path d="M495 0L495 1215L190 1005L190 1190L525 1409L715 1409L715 0Z" transform="translate(162.14 54.80) scale(0.00518 -0.00518)" fill="rgb(26, 26, 26)" stroke="rgb(26, 26, 26)" stroke-width="50"/>
<path d="M495 0L495 1215L190 1005L190 1190L525 1409L715 1409L715 0Z" transform="translate(46.01 241.60) scale(0.00566 -0.00566)" fill="rgb(34, 34, 34)" stroke="rgb(34, 34, 34)" stroke-width="50"/>
<path d="M495 0L495 1215L190 1005L190 1190L525 1409L715 1409L715 0Z" transform="translate(59.32 236.60) scale(0.00410 -0.00410)" fill="rgb(34, 34, 34)" stroke="rgb(34, 34, 34)" stroke-width="50"/>
<path d="M495 0L495 1215L190 1005L190 1190L525 1409L715 1409L715 0Z" transform="translate(76.47 241.60) scale(0.00566 -0.00566)" fill="rgb(34, 34, 34)" stroke="rgb(34, 34, 34)" stroke-width="50"/>
<path d="M495 0L495 1215L190 1005L190 1190L525 1409L715 1409L715 0Z" transform="translate(114.98 241.60) scale(0.00566 -0.00566)" fill="rgb(34, 34, 34)" stroke="rgb(34, 34, 34)" stroke-width="50"/>
<path d="M495 0L495 1215L190 1005L190 1190L525 1409L715 1409L715 0Z" transform="translate(153.49 241.60) scale(0.00566 -0.00566)" fill="rgb(34, 34, 34)" stroke="rgb(34, 34, 34)" stroke-width="50"/>
<path d="M495 0L495 1215L190 1005L190 1190L525 1409L715 1409L715 0Z" transform="translate(192.00 241.60) scale(0.00566 -0.00566)" fill="rgb(34, 34, 34)" stroke="rgb(34, 34, 34)" stroke-width="50"/>
<path d="M495 0L495 1215L190 1005L190 1190L525 1409L715 1409L715 0Z" transform="translate(230.51 241.60) scale(0.00566 -0.00566)" fill="rgb(34, 34, 34)" stroke="rgb(34, 34, 34)" stroke-width="50"/>
<path d="M495 0L495 1215L190 1005L190 1190L525 1409L715 1409L715 0Z" transform="translate(112.65 102.20) scale(0.00537 -0.00537)" fill="rgb(17, 17, 17)" stroke="rgb(17, 17, 17)" stroke-width="50"/>
<path d="M495 0L495 1215L190 1005L190 1190L525 1409L715 1409L715 0Z" transform="translate(126.73 102.20) scale(0.00537 -0.00537)" fill="rgb(17, 17, 17)" stroke="rgb(17, 17, 17)" stroke-width="50"/>
<path d="M495 0L495 1215L190 1005L190 1190L525 1409L715 1409L715 0Z" transform="translate(389.16 38.20) scale(0.00518 -0.00518)" fill="rgb(58, 56, 144)" stroke="rgb(58, 56, 144)" stroke-width="50"/>
<path d="M495 0L495 1215L190 1005L190 1190L525 1409L715 1409L715 0Z" transform="translate(396.53 54.80) scale(0.00518 -0.00518)" fill="rgb(26, 26, 26)" stroke="rgb(26, 26, 26)" stroke-width="50"/>
<path d="M495 0L495 1215L190 1005L190 1190L525 1409L715 1409L715 0Z" transform="translate(307.41 241.60) scale(0.00566 -0.00566)" fill="rgb(34, 34, 34)" stroke="rgb(34, 34, 34)" stroke-width="50"/>
<path d="M495 0L495 1215L190 1005L190 1190L525 1409L715 1409L715 0Z" transform="translate(320.72 236.60) scale(0.00410 -0.00410)" fill="rgb(34, 34, 34)" stroke="rgb(34, 34, 34)" stroke-width="50"/>
<path d="M495 0L495 1215L190 1005L190 1190L525 1409L715 1409L715 0Z" transform="translate(337.87 241.60) scale(0.00566 -0.00566)" fill="rgb(34, 34, 34)" stroke="rgb(34, 34, 34)" stroke-width="50"/>
<path d="M495 0L495 1215L190 1005L190 1190L525 1409L715 1409L715 0Z" transform="translate(376.38 241.60) scale(0.00566 -0.00566)" fill="rgb(34, 34, 34)" stroke="rgb(34, 34, 34)" stroke-width="50"/>
<path d="M495 0L495 1215L190 1005L190 1190L525 1409L715 1409L715 0Z" transform="translate(414.89 241.60) scale(0.00566 -0.00566)" fill="rgb(34, 34, 34)" stroke="rgb(34, 34, 34)" stroke-width="50"/>
<path d="M495 0L495 1215L190 1005L190 1190L525 1409L715 1409L715 0Z" transform="translate(453.40 241.60) scale(0.00566 -0.00566)" fill="rgb(34, 34, 34)" stroke="rgb(34, 34, 34)" stroke-width="50"/>
<path d="M495 0L495 1215L190 1005L190 1190L525 1409L715 1409L715 0Z" transform="translate(491.91 241.60) scale(0.00566 -0.00566)" fill="rgb(34, 34, 34)" stroke="rgb(34, 34, 34)" stroke-width="50"/>
<path d="M495 0L495 1215L190 1005L190 1190L525 1409L715 1409L715 0Z" transform="translate(359.99 103.00) scale(0.00537 -0.00537)" fill="rgb(17, 17, 17)" stroke="rgb(17, 17, 17)" stroke-width="50"/>
<path d="M495 0L495 1215L190 1005L190 1190L525 1409L715 1409L715 0Z" transform="translate(141.20 315.20) scale(0.00518 -0.00518)" fill="rgb(58, 56, 144)" stroke="rgb(58, 56, 144)" stroke-width="50"/>
<path d="M495 0L495 1215L190 1005L190 1190L525 1409L715 1409L715 0Z" transform="translate(154.77 315.20) scale(0.00518 -0.00518)" fill="rgb(58, 56, 144)" stroke="rgb(58, 56, 144)" stroke-width="50"/>
<path d="M495 0L495 1215L190 1005L190 1190L525 1409L715 1409L715 0Z" transform="translate(148.58 331.80) scale(0.00518 -0.00518)" fill="rgb(26, 26, 26)" stroke="rgb(26, 26, 26)" stroke-width="50"/>
<path d="M495 0L495 1215L190 1005L190 1190L525 1409L715 1409L715 0Z" transform="translate(162.14 331.80) scale(0.00518 -0.00518)" fill="rgb(26, 26, 26)" stroke="rgb(26, 26, 26)" stroke-width="50"/>
<path d="M495 0L495 1215L190 1005L190 1190L525 1409L715 1409L715 0Z" transform="translate(46.01 518.30) scale(0.00566 -0.00566)" fill="rgb(34, 34, 34)" stroke="rgb(34, 34, 34)" stroke-width="50"/>
<path d="M495 0L495 1215L190 1005L190 1190L525 1409L715 1409L715 0Z" transform="translate(59.32 513.30) scale(0.00410 -0.00410)" fill="rgb(34, 34, 34)" stroke="rgb(34, 34, 34)" stroke-width="50"/>
<path d="M495 0L495 1215L190 1005L190 1190L525 1409L715 1409L715 0Z" transform="translate(76.47 518.30) scale(0.00566 -0.00566)" fill="rgb(34, 34, 34)" stroke="rgb(34, 34, 34)" stroke-width="50"/>
<path d="M495 0L495 1215L190 1005L190 1190L525 1409L715 1409L715 0Z" transform="translate(114.98 518.30) scale(0.00566 -0.00566)" fill="rgb(34, 34, 34)" stroke="rgb(34, 34, 34)" stroke-width="50"/>
<path d="M495 0L495 1215L190 1005L190 1190L525 1409L715 1409L715 0Z" transform="translate(153.49 518.30) scale(0.00566 -0.00566)" fill="rgb(34, 34, 34)" stroke="rgb(34, 34, 34)" stroke-width="50"/>
<path d="M495 0L495 1215L190 1005L190 1190L525 1409L715 1409L715 0Z" transform="translate(192.00 518.30) scale(0.00566 -0.00566)" fill="rgb(34, 34, 34)" stroke="rgb(34, 34, 34)" stroke-width="50"/>
<path d="M495 0L495 1215L190 1005L190 1190L525 1409L715 1409L715 0Z" transform="translate(230.51 518.30) scale(0.00566 -0.00566)" fill="rgb(34, 34, 34)" stroke="rgb(34, 34, 34)" stroke-width="50"/>
<path d="M495 0L495 1215L190 1005L190 1190L525 1409L715 1409L715 0Z" transform="translate(112.65 381.40) scale(0.00537 -0.00537)" fill="rgb(17, 17, 17)" stroke="rgb(17, 17, 17)" stroke-width="50"/>
<path d="M495 0L495 1215L190 1005L190 1190L525 1409L715 1409L715 0Z" transform="translate(126.73 381.40) scale(0.00537 -0.00537)" fill="rgb(17, 17, 17)" stroke="rgb(17, 17, 17)" stroke-width="50"/>
<path d="M495 0L495 1215L190 1005L190 1190L525 1409L715 1409L715 0Z" transform="translate(389.16 315.20) scale(0.00518 -0.00518)" fill="rgb(58, 56, 144)" stroke="rgb(58, 56, 144)" stroke-width="50"/>
<path d="M495 0L495 1215L190 1005L190 1190L525 1409L715 1409L715 0Z" transform="translate(396.53 331.80) scale(0.00518 -0.00518)" fill="rgb(26, 26, 26)" stroke="rgb(26, 26, 26)" stroke-width="50"/>
<path d="M495 0L495 1215L190 1005L190 1190L525 1409L715 1409L715 0Z" transform="translate(307.41 518.30) scale(0.00566 -0.00566)" fill="rgb(34, 34, 34)" stroke="rgb(34, 34, 34)" stroke-width="50"/>
<path d="M495 0L495 1215L190 1005L190 1190L525 1409L715 1409L715 0Z" transform="translate(320.72 513.30) scale(0.00410 -0.00410)" fill="rgb(34, 34, 34)" stroke="rgb(34, 34, 34)" stroke-width="50"/>
<path d="M495 0L495 1215L190 1005L190 1190L525 1409L715 1409L715 0Z" transform="translate(337.87 518.30) scale(0.00566 -0.00566)" fill="rgb(34, 34, 34)" stroke="rgb(34, 34, 34)" stroke-width="50"/>
<path d="M495 0L495 1215L190 1005L190 1190L525 1409L715 1409L715 0Z" transform="translate(376.38 518.30) scale(0.00566 -0.00566)" fill="rgb(34, 34, 34)" stroke="rgb(34, 34, 34)" stroke-width="50"/>
<path d="M495 0L495 1215L190 1005L190 1190L525 1409L715 1409L715 0Z" transform="translate(414.89 518.30) scale(0.00566 -0.00566)" fill="rgb(34, 34, 34)" stroke="rgb(34, 34, 34)" stroke-width="50"/>
<path d="M495 0L495 1215L190 1005L190 1190L525 1409L715 1409L715 0Z" transform="translate(453.40 518.30) scale(0.00566 -0.00566)" fill="rgb(34, 34, 34)" stroke="rgb(34, 34, 34)" stroke-width="50"/>
<path d="M495 0L495 1215L190 1005L190 1190L525 1409L715 1409L715 0Z" transform="translate(491.91 518.30) scale(0.00566 -0.00566)" fill="rgb(34, 34, 34)" stroke="rgb(34, 34, 34)" stroke-width="50"/>
<path d="M495 0L495 1215L190 1005L190 1190L525 1409L715 1409L715 0Z" transform="translate(359.99 381.00) scale(0.00537 -0.00537)" fill="rgb(17, 17, 17)" stroke="rgb(17, 17, 17)" stroke-width="50"/>
</svg>
</body></html>
